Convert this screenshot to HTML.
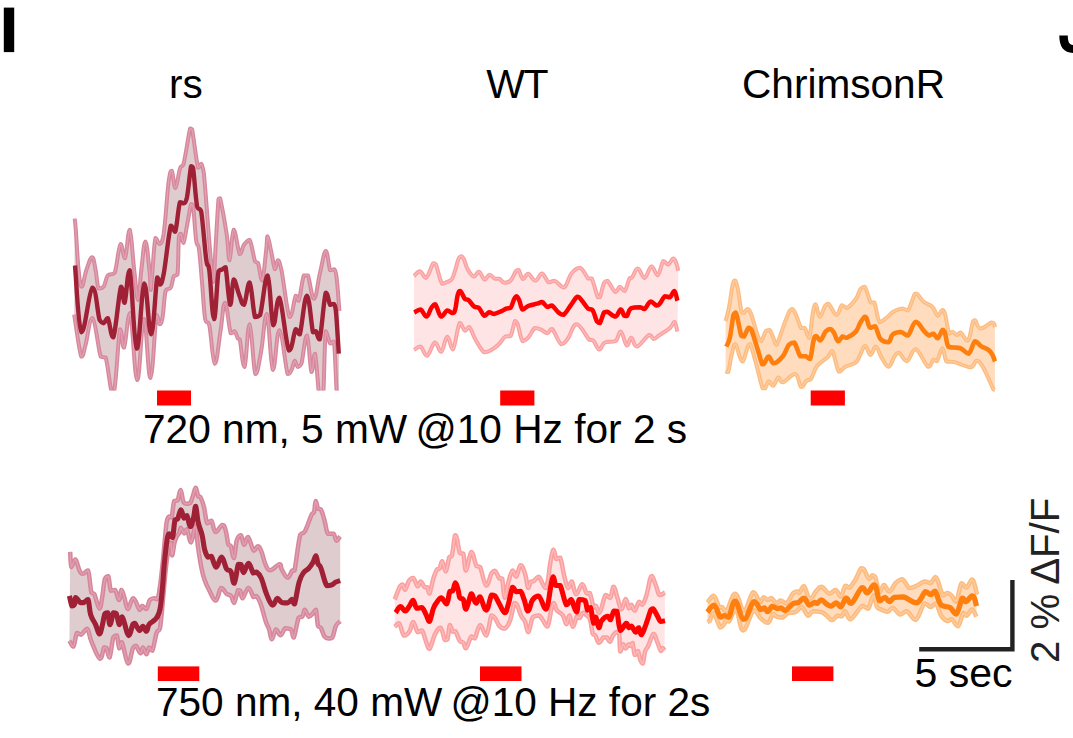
<!DOCTYPE html>
<html><head><meta charset="utf-8"><title>figure</title>
<style>
html,body{margin:0;padding:0;background:#fff;}
body{width:1073px;height:738px;position:relative;overflow:hidden;font-family:"Liberation Sans",sans-serif;color:#000;}
svg{position:absolute;left:0;top:0;}
.t{position:absolute;white-space:nowrap;font-size:41px;line-height:41px;letter-spacing:0;}
</style></head><body>
<svg width="1073" height="738" viewBox="0 0 1073 738">
<defs><clipPath id="c_t1"><rect x="60" y="100" width="300" height="290.5"/></clipPath></defs>
<g clip-path="url(#c_t1)">
<path d="M74.7,218.6 C74.9,220.9 75.0,219.7 75.8,230.0 C76.6,240.3 77.4,258.7 78.6,270.0 C79.8,281.3 80.1,286.6 81.7,286.6 C83.3,286.6 84.3,275.9 86.4,270.0 C88.5,264.1 90.3,257.2 92.1,257.2 C93.9,257.2 94.3,263.7 95.6,270.0 C96.9,276.3 97.0,285.3 98.6,288.6 C100.2,288.6 101.9,288.6 103.7,286.6 C105.5,284.0 105.8,278.0 107.8,275.4 C109.8,273.4 112.3,274.9 113.9,273.4 C115.5,271.9 114.6,273.4 115.9,268.0 C117.2,262.1 118.8,246.0 120.6,244.0 C122.4,244.0 123.2,258.2 125.0,258.2 C126.8,255.4 127.9,229.8 129.7,229.8 C131.5,232.2 132.5,256.0 134.2,270.0 C135.9,284.0 136.6,300.0 138.0,300.0 C139.4,300.0 139.8,281.7 141.3,270.0 C142.8,258.3 143.8,241.5 145.4,241.5 C147.0,241.5 148.3,260.3 149.4,270.0 C150.5,279.7 150.2,290.0 150.8,290.0 C151.4,290.0 151.6,280.4 152.5,270.0 C153.4,259.6 154.1,243.1 155.5,237.9 C156.9,237.9 158.0,244.0 159.6,244.0 C161.2,243.2 161.9,244.0 163.7,233.8 C165.5,221.2 167.1,193.6 168.7,181.0 C170.3,170.8 170.5,170.8 171.8,170.8 C173.1,172.2 173.8,188.1 175.4,188.1 C177.0,187.7 178.3,173.7 179.9,168.8 C181.5,163.9 181.6,168.8 183.6,163.7 C185.6,155.7 188.4,135.5 190.1,128.6 C191.8,128.6 190.5,128.6 192.1,129.4 C193.7,137.2 196.3,160.9 198.1,167.8 C199.9,167.8 200.1,163.7 201.2,163.7 C202.3,164.7 202.0,163.7 203.8,172.8 C205.6,190.1 208.1,228.2 210.0,250.0 C211.9,271.8 212.3,282.0 213.4,282.0 C214.5,282.0 214.4,266.5 215.4,250.0 C216.4,233.5 217.6,209.7 218.5,199.3 C219.4,198.2 218.5,198.2 220.1,198.2 C221.7,205.1 224.7,221.4 226.6,233.8 C228.5,246.2 228.2,260.2 229.6,260.2 C231.0,259.4 231.7,231.0 233.7,229.8 C235.7,229.8 237.8,251.1 239.8,254.1 C241.8,254.1 241.9,247.8 243.9,245.0 C245.9,242.2 247.4,239.9 249.6,239.9 C251.8,243.1 253.3,256.5 255.0,261.2 C256.7,263.2 256.7,261.2 258.1,263.2 C259.5,267.1 260.6,280.5 262.2,280.5 C263.8,277.9 265.1,258.8 266.2,250.0 C267.3,241.2 266.6,236.3 267.6,236.3 C268.6,236.7 269.8,245.4 271.3,252.0 C272.8,258.6 273.7,267.7 275.0,269.3 C276.3,269.3 276.5,260.2 277.8,260.2 C279.1,260.4 279.1,260.2 281.5,270.3 C283.9,281.7 286.8,312.0 289.6,317.1 C292.4,317.1 293.9,299.0 295.7,295.7 C297.5,295.7 297.1,300.8 298.7,300.8 C300.3,296.7 302.0,280.5 303.8,275.4 C305.6,275.4 305.9,275.4 307.9,275.4 C309.9,280.1 311.6,298.8 314.0,298.8 C316.4,298.2 317.7,282.0 320.1,272.4 C322.5,262.8 323.8,251.4 325.8,251.0 C327.8,251.0 328.5,266.6 330.2,270.3 C331.9,270.3 333.0,269.3 334.3,269.3 C335.6,270.9 335.7,270.2 336.7,278.5 C337.7,286.8 338.9,304.5 339.4,311.0 L338.8,405.0 C338.4,402.4 337.7,404.7 336.7,392.0 C335.7,379.3 335.2,351.2 333.9,341.5 C332.6,341.5 331.8,343.5 330.2,343.5 C328.6,341.5 327.2,331.3 325.8,331.3 C324.4,342.2 324.3,384.7 323.0,398.0 C321.7,398.0 321.1,398.0 319.5,398.0 C317.9,389.1 316.6,358.9 315.0,353.7 C313.4,353.7 313.1,372.0 311.5,372.0 C309.9,368.3 308.9,337.0 306.9,335.4 C304.9,335.4 303.2,357.5 301.4,363.8 C299.6,366.9 299.0,366.9 297.7,366.9 C296.4,366.3 295.9,360.8 294.7,360.8 C293.5,361.4 293.0,367.3 291.6,369.9 C290.2,372.5 290.0,374.0 287.6,374.0 C285.2,366.1 282.3,331.1 279.4,330.3 C276.5,330.3 275.4,369.9 272.9,369.9 C270.4,366.6 269.2,317.7 266.8,314.0 C264.4,314.0 263.4,339.6 261.1,351.6 C258.8,363.6 257.7,374.0 255.4,374.0 C253.1,368.5 251.8,325.6 249.6,324.2 C247.4,324.2 246.5,363.9 244.5,366.9 C242.5,366.9 241.1,345.1 239.8,339.4 C238.5,338.4 238.8,339.4 237.8,338.4 C236.8,336.8 236.1,332.3 234.7,331.3 C233.3,331.3 232.6,333.3 230.7,333.3 C228.8,327.6 227.0,303.2 225.0,302.8 C223.0,302.8 222.5,319.1 220.5,331.3 C218.5,343.5 217.0,363.8 214.8,363.8 C212.6,362.6 211.2,334.1 209.3,325.2 C207.4,319.1 206.6,325.2 205.2,319.1 C203.8,311.0 203.4,298.4 202.2,284.6 C201.0,270.8 200.3,258.9 199.1,250.0 C197.9,241.1 197.3,248.8 196.1,239.9 C194.9,231.0 194.1,212.5 193.1,205.4 C192.1,204.3 192.3,204.3 191.1,204.3 C189.9,208.4 188.5,218.0 187.0,225.7 C185.5,233.4 184.6,241.4 183.4,243.0 C182.2,243.0 181.8,235.0 180.9,233.8 C180.0,233.8 179.6,233.8 178.9,236.9 C178.2,245.0 178.5,266.5 177.5,274.4 C176.5,276.4 175.1,274.4 173.8,276.4 C172.5,279.0 172.4,284.7 170.8,287.6 C169.2,290.5 167.3,287.6 165.7,290.7 C164.1,296.6 163.8,310.4 162.6,317.1 C161.4,323.8 160.8,324.2 159.6,324.2 C158.4,323.8 158.3,315.0 156.5,315.0 C154.7,325.8 152.9,377.2 150.4,378.0 C147.9,378.0 146.5,319.1 143.9,319.1 C141.3,319.5 140.0,380.1 137.2,380.1 C134.4,378.9 132.7,319.5 130.1,313.0 C127.5,313.0 126.0,344.3 124.0,347.6 C122.0,347.6 122.1,329.3 120.0,329.3 C117.9,338.8 116.2,389.3 113.3,395.0 C110.4,395.0 108.2,365.4 105.7,357.7 C103.2,356.7 103.3,357.7 100.7,356.7 C98.1,348.8 95.6,320.3 92.5,318.1 C89.4,318.1 87.6,337.8 85.4,345.5 C83.2,353.2 83.5,356.7 81.3,356.7 C79.1,350.5 75.6,323.0 74.2,314.6 Z" fill="#dfcccf" stroke="none"/>
<path d="M74.7,218.6 C74.9,220.9 75.0,219.7 75.8,230.0 C76.6,240.3 77.4,258.7 78.6,270.0 C79.8,281.3 80.1,286.6 81.7,286.6 C83.3,286.6 84.3,275.9 86.4,270.0 C88.5,264.1 90.3,257.2 92.1,257.2 C93.9,257.2 94.3,263.7 95.6,270.0 C96.9,276.3 97.0,285.3 98.6,288.6 C100.2,288.6 101.9,288.6 103.7,286.6 C105.5,284.0 105.8,278.0 107.8,275.4 C109.8,273.4 112.3,274.9 113.9,273.4 C115.5,271.9 114.6,273.4 115.9,268.0 C117.2,262.1 118.8,246.0 120.6,244.0 C122.4,244.0 123.2,258.2 125.0,258.2 C126.8,255.4 127.9,229.8 129.7,229.8 C131.5,232.2 132.5,256.0 134.2,270.0 C135.9,284.0 136.6,300.0 138.0,300.0 C139.4,300.0 139.8,281.7 141.3,270.0 C142.8,258.3 143.8,241.5 145.4,241.5 C147.0,241.5 148.3,260.3 149.4,270.0 C150.5,279.7 150.2,290.0 150.8,290.0 C151.4,290.0 151.6,280.4 152.5,270.0 C153.4,259.6 154.1,243.1 155.5,237.9 C156.9,237.9 158.0,244.0 159.6,244.0 C161.2,243.2 161.9,244.0 163.7,233.8 C165.5,221.2 167.1,193.6 168.7,181.0 C170.3,170.8 170.5,170.8 171.8,170.8 C173.1,172.2 173.8,188.1 175.4,188.1 C177.0,187.7 178.3,173.7 179.9,168.8 C181.5,163.9 181.6,168.8 183.6,163.7 C185.6,155.7 188.4,135.5 190.1,128.6 C191.8,128.6 190.5,128.6 192.1,129.4 C193.7,137.2 196.3,160.9 198.1,167.8 C199.9,167.8 200.1,163.7 201.2,163.7 C202.3,164.7 202.0,163.7 203.8,172.8 C205.6,190.1 208.1,228.2 210.0,250.0 C211.9,271.8 212.3,282.0 213.4,282.0 C214.5,282.0 214.4,266.5 215.4,250.0 C216.4,233.5 217.6,209.7 218.5,199.3 C219.4,198.2 218.5,198.2 220.1,198.2 C221.7,205.1 224.7,221.4 226.6,233.8 C228.5,246.2 228.2,260.2 229.6,260.2 C231.0,259.4 231.7,231.0 233.7,229.8 C235.7,229.8 237.8,251.1 239.8,254.1 C241.8,254.1 241.9,247.8 243.9,245.0 C245.9,242.2 247.4,239.9 249.6,239.9 C251.8,243.1 253.3,256.5 255.0,261.2 C256.7,263.2 256.7,261.2 258.1,263.2 C259.5,267.1 260.6,280.5 262.2,280.5 C263.8,277.9 265.1,258.8 266.2,250.0 C267.3,241.2 266.6,236.3 267.6,236.3 C268.6,236.7 269.8,245.4 271.3,252.0 C272.8,258.6 273.7,267.7 275.0,269.3 C276.3,269.3 276.5,260.2 277.8,260.2 C279.1,260.4 279.1,260.2 281.5,270.3 C283.9,281.7 286.8,312.0 289.6,317.1 C292.4,317.1 293.9,299.0 295.7,295.7 C297.5,295.7 297.1,300.8 298.7,300.8 C300.3,296.7 302.0,280.5 303.8,275.4 C305.6,275.4 305.9,275.4 307.9,275.4 C309.9,280.1 311.6,298.8 314.0,298.8 C316.4,298.2 317.7,282.0 320.1,272.4 C322.5,262.8 323.8,251.4 325.8,251.0 C327.8,251.0 328.5,266.6 330.2,270.3 C331.9,270.3 333.0,269.3 334.3,269.3 C335.6,270.9 335.7,270.2 336.7,278.5 C337.7,286.8 338.9,304.5 339.4,311.0" fill="none" stroke="#d6879b" stroke-width="4" stroke-linejoin="round" stroke-linecap="butt"/>
<path d="M74.2,314.6 C75.6,323.0 79.1,350.5 81.3,356.7 C83.5,356.7 83.2,353.2 85.4,345.5 C87.6,337.8 89.4,318.1 92.5,318.1 C95.6,320.3 98.1,348.8 100.7,356.7 C103.3,357.7 103.2,356.7 105.7,357.7 C108.2,365.4 110.4,395.0 113.3,395.0 C116.2,389.3 117.9,338.8 120.0,329.3 C122.1,329.3 122.0,347.6 124.0,347.6 C126.0,344.3 127.5,313.0 130.1,313.0 C132.7,319.5 134.4,378.9 137.2,380.1 C140.0,380.1 141.3,319.5 143.9,319.1 C146.5,319.1 147.9,378.0 150.4,378.0 C152.9,377.2 154.7,325.8 156.5,315.0 C158.3,315.0 158.4,323.8 159.6,324.2 C160.8,324.2 161.4,323.8 162.6,317.1 C163.8,310.4 164.1,296.6 165.7,290.7 C167.3,287.6 169.2,290.5 170.8,287.6 C172.4,284.7 172.5,279.0 173.8,276.4 C175.1,274.4 176.5,276.4 177.5,274.4 C178.5,266.5 178.2,245.0 178.9,236.9 C179.6,233.8 180.0,233.8 180.9,233.8 C181.8,235.0 182.2,243.0 183.4,243.0 C184.6,241.4 185.5,233.4 187.0,225.7 C188.5,218.0 189.9,208.4 191.1,204.3 C192.3,204.3 192.1,204.3 193.1,205.4 C194.1,212.5 194.9,231.0 196.1,239.9 C197.3,248.8 197.9,241.1 199.1,250.0 C200.3,258.9 201.0,270.8 202.2,284.6 C203.4,298.4 203.8,311.0 205.2,319.1 C206.6,325.2 207.4,319.1 209.3,325.2 C211.2,334.1 212.6,362.6 214.8,363.8 C217.0,363.8 218.5,343.5 220.5,331.3 C222.5,319.1 223.0,302.8 225.0,302.8 C227.0,303.2 228.8,327.6 230.7,333.3 C232.6,333.3 233.3,331.3 234.7,331.3 C236.1,332.3 236.8,336.8 237.8,338.4 C238.8,339.4 238.5,338.4 239.8,339.4 C241.1,345.1 242.5,366.9 244.5,366.9 C246.5,363.9 247.4,324.2 249.6,324.2 C251.8,325.6 253.1,368.5 255.4,374.0 C257.7,374.0 258.8,363.6 261.1,351.6 C263.4,339.6 264.4,314.0 266.8,314.0 C269.2,317.7 270.4,366.6 272.9,369.9 C275.4,369.9 276.5,330.3 279.4,330.3 C282.3,331.1 285.2,366.1 287.6,374.0 C290.0,374.0 290.2,372.5 291.6,369.9 C293.0,367.3 293.5,361.4 294.7,360.8 C295.9,360.8 296.4,366.3 297.7,366.9 C299.0,366.9 299.6,366.9 301.4,363.8 C303.2,357.5 304.9,335.4 306.9,335.4 C308.9,337.0 309.9,368.3 311.5,372.0 C313.1,372.0 313.4,353.7 315.0,353.7 C316.6,358.9 317.9,389.1 319.5,398.0 C321.1,398.0 321.7,398.0 323.0,398.0 C324.3,384.7 324.4,342.2 325.8,331.3 C327.2,331.3 328.6,341.5 330.2,343.5 C331.8,343.5 332.6,341.5 333.9,341.5 C335.2,351.2 335.7,379.3 336.7,392.0 C337.7,404.7 338.4,402.4 338.8,405.0" fill="none" stroke="#d6879b" stroke-width="4" stroke-linejoin="round" stroke-linecap="butt"/>
<path d="M74.7,218.6 C74.9,220.9 75.0,219.7 75.8,230.0 C76.6,240.3 77.4,258.7 78.6,270.0 C79.8,281.3 80.1,286.6 81.7,286.6 C83.3,286.6 84.3,275.9 86.4,270.0 C88.5,264.1 90.3,257.2 92.1,257.2 C93.9,257.2 94.3,263.7 95.6,270.0 C96.9,276.3 97.0,285.3 98.6,288.6 C100.2,288.6 101.9,288.6 103.7,286.6 C105.5,284.0 105.8,278.0 107.8,275.4 C109.8,273.4 112.3,274.9 113.9,273.4 C115.5,271.9 114.6,273.4 115.9,268.0 C117.2,262.1 118.8,246.0 120.6,244.0 C122.4,244.0 123.2,258.2 125.0,258.2 C126.8,255.4 127.9,229.8 129.7,229.8 C131.5,232.2 132.5,256.0 134.2,270.0 C135.9,284.0 136.6,300.0 138.0,300.0 C139.4,300.0 139.8,281.7 141.3,270.0 C142.8,258.3 143.8,241.5 145.4,241.5 C147.0,241.5 148.3,260.3 149.4,270.0 C150.5,279.7 150.2,290.0 150.8,290.0 C151.4,290.0 151.6,280.4 152.5,270.0 C153.4,259.6 154.1,243.1 155.5,237.9 C156.9,237.9 158.0,244.0 159.6,244.0 C161.2,243.2 161.9,244.0 163.7,233.8 C165.5,221.2 167.1,193.6 168.7,181.0 C170.3,170.8 170.5,170.8 171.8,170.8 C173.1,172.2 173.8,188.1 175.4,188.1 C177.0,187.7 178.3,173.7 179.9,168.8 C181.5,163.9 181.6,168.8 183.6,163.7 C185.6,155.7 188.4,135.5 190.1,128.6 C191.8,128.6 190.5,128.6 192.1,129.4 C193.7,137.2 196.3,160.9 198.1,167.8 C199.9,167.8 200.1,163.7 201.2,163.7 C202.3,164.7 202.0,163.7 203.8,172.8 C205.6,190.1 208.1,228.2 210.0,250.0 C211.9,271.8 212.3,282.0 213.4,282.0 C214.5,282.0 214.4,266.5 215.4,250.0 C216.4,233.5 217.6,209.7 218.5,199.3 C219.4,198.2 218.5,198.2 220.1,198.2 C221.7,205.1 224.7,221.4 226.6,233.8 C228.5,246.2 228.2,260.2 229.6,260.2 C231.0,259.4 231.7,231.0 233.7,229.8 C235.7,229.8 237.8,251.1 239.8,254.1 C241.8,254.1 241.9,247.8 243.9,245.0 C245.9,242.2 247.4,239.9 249.6,239.9 C251.8,243.1 253.3,256.5 255.0,261.2 C256.7,263.2 256.7,261.2 258.1,263.2 C259.5,267.1 260.6,280.5 262.2,280.5 C263.8,277.9 265.1,258.8 266.2,250.0 C267.3,241.2 266.6,236.3 267.6,236.3 C268.6,236.7 269.8,245.4 271.3,252.0 C272.8,258.6 273.7,267.7 275.0,269.3 C276.3,269.3 276.5,260.2 277.8,260.2 C279.1,260.4 279.1,260.2 281.5,270.3 C283.9,281.7 286.8,312.0 289.6,317.1 C292.4,317.1 293.9,299.0 295.7,295.7 C297.5,295.7 297.1,300.8 298.7,300.8 C300.3,296.7 302.0,280.5 303.8,275.4 C305.6,275.4 305.9,275.4 307.9,275.4 C309.9,280.1 311.6,298.8 314.0,298.8 C316.4,298.2 317.7,282.0 320.1,272.4 C322.5,262.8 323.8,251.4 325.8,251.0 C327.8,251.0 328.5,266.6 330.2,270.3 C331.9,270.3 333.0,269.3 334.3,269.3 C335.6,270.9 335.7,270.2 336.7,278.5 C337.7,286.8 338.9,304.5 339.4,311.0" fill="none" stroke="#e1a1b2" stroke-width="1.3" stroke-linejoin="round" stroke-linecap="butt"/>
<path d="M74.2,314.6 C75.6,323.0 79.1,350.5 81.3,356.7 C83.5,356.7 83.2,353.2 85.4,345.5 C87.6,337.8 89.4,318.1 92.5,318.1 C95.6,320.3 98.1,348.8 100.7,356.7 C103.3,357.7 103.2,356.7 105.7,357.7 C108.2,365.4 110.4,395.0 113.3,395.0 C116.2,389.3 117.9,338.8 120.0,329.3 C122.1,329.3 122.0,347.6 124.0,347.6 C126.0,344.3 127.5,313.0 130.1,313.0 C132.7,319.5 134.4,378.9 137.2,380.1 C140.0,380.1 141.3,319.5 143.9,319.1 C146.5,319.1 147.9,378.0 150.4,378.0 C152.9,377.2 154.7,325.8 156.5,315.0 C158.3,315.0 158.4,323.8 159.6,324.2 C160.8,324.2 161.4,323.8 162.6,317.1 C163.8,310.4 164.1,296.6 165.7,290.7 C167.3,287.6 169.2,290.5 170.8,287.6 C172.4,284.7 172.5,279.0 173.8,276.4 C175.1,274.4 176.5,276.4 177.5,274.4 C178.5,266.5 178.2,245.0 178.9,236.9 C179.6,233.8 180.0,233.8 180.9,233.8 C181.8,235.0 182.2,243.0 183.4,243.0 C184.6,241.4 185.5,233.4 187.0,225.7 C188.5,218.0 189.9,208.4 191.1,204.3 C192.3,204.3 192.1,204.3 193.1,205.4 C194.1,212.5 194.9,231.0 196.1,239.9 C197.3,248.8 197.9,241.1 199.1,250.0 C200.3,258.9 201.0,270.8 202.2,284.6 C203.4,298.4 203.8,311.0 205.2,319.1 C206.6,325.2 207.4,319.1 209.3,325.2 C211.2,334.1 212.6,362.6 214.8,363.8 C217.0,363.8 218.5,343.5 220.5,331.3 C222.5,319.1 223.0,302.8 225.0,302.8 C227.0,303.2 228.8,327.6 230.7,333.3 C232.6,333.3 233.3,331.3 234.7,331.3 C236.1,332.3 236.8,336.8 237.8,338.4 C238.8,339.4 238.5,338.4 239.8,339.4 C241.1,345.1 242.5,366.9 244.5,366.9 C246.5,363.9 247.4,324.2 249.6,324.2 C251.8,325.6 253.1,368.5 255.4,374.0 C257.7,374.0 258.8,363.6 261.1,351.6 C263.4,339.6 264.4,314.0 266.8,314.0 C269.2,317.7 270.4,366.6 272.9,369.9 C275.4,369.9 276.5,330.3 279.4,330.3 C282.3,331.1 285.2,366.1 287.6,374.0 C290.0,374.0 290.2,372.5 291.6,369.9 C293.0,367.3 293.5,361.4 294.7,360.8 C295.9,360.8 296.4,366.3 297.7,366.9 C299.0,366.9 299.6,366.9 301.4,363.8 C303.2,357.5 304.9,335.4 306.9,335.4 C308.9,337.0 309.9,368.3 311.5,372.0 C313.1,372.0 313.4,353.7 315.0,353.7 C316.6,358.9 317.9,389.1 319.5,398.0 C321.1,398.0 321.7,398.0 323.0,398.0 C324.3,384.7 324.4,342.2 325.8,331.3 C327.2,331.3 328.6,341.5 330.2,343.5 C331.8,343.5 332.6,341.5 333.9,341.5 C335.2,351.2 335.7,379.3 336.7,392.0 C337.7,404.7 338.4,402.4 338.8,405.0" fill="none" stroke="#e1a1b2" stroke-width="1.3" stroke-linejoin="round" stroke-linecap="butt"/>
<path d="M75.0,265.5 C76.3,278.9 78.1,327.9 81.6,332.3 C85.1,332.3 88.9,290.0 92.5,287.6 C96.1,287.6 97.4,313.0 99.6,320.1 C101.8,323.2 102.1,323.2 103.7,323.2 C105.3,322.8 105.9,318.1 107.8,318.1 C109.7,320.9 110.7,337.4 113.3,337.4 C115.9,331.1 118.7,293.5 121.0,286.6 C123.3,286.6 122.9,302.8 124.6,302.8 C126.3,299.5 127.3,270.3 129.7,270.3 C132.1,279.5 133.9,346.0 136.8,348.6 C139.7,348.6 141.4,286.4 144.3,283.5 C147.2,283.5 148.5,334.3 151.1,334.3 C153.7,333.1 155.4,287.3 157.2,277.4 C159.0,277.4 158.7,284.6 160.0,284.6 C161.3,283.9 161.5,284.6 163.7,274.0 C165.9,262.2 168.5,234.1 170.8,225.7 C173.1,225.7 173.4,231.8 175.2,231.8 C177.0,227.1 178.1,208.0 179.9,202.3 C181.7,202.3 182.6,203.3 184.0,203.3 C185.4,202.3 185.6,203.3 187.0,197.2 C188.4,189.8 189.9,172.1 191.1,166.3 C192.3,166.3 191.9,166.3 193.1,168.0 C194.3,176.0 195.5,197.7 197.1,206.4 C198.7,211.5 199.4,206.4 201.2,211.5 C203.0,222.3 204.7,248.4 206.3,260.2 C207.9,270.3 207.8,260.2 209.3,270.3 C210.8,282.1 212.2,318.9 214.0,319.1 C215.8,319.1 216.8,281.3 218.5,271.3 C220.2,269.3 221.1,270.1 222.5,269.3 C223.9,268.5 224.1,267.3 225.6,267.3 C227.1,274.4 228.6,302.5 230.2,304.9 C231.8,304.9 232.0,281.7 233.7,279.5 C235.4,279.5 236.8,288.6 238.8,293.7 C240.8,298.8 241.7,304.9 243.9,304.9 C246.1,302.7 247.4,282.5 249.6,282.5 C251.8,284.9 252.9,310.6 255.0,317.1 C257.1,317.1 257.6,317.1 260.1,315.0 C262.6,306.7 265.0,275.4 267.6,275.4 C270.2,277.4 270.9,320.7 273.3,325.2 C275.7,325.2 276.3,297.8 279.4,297.8 C282.5,302.9 285.7,344.3 289.0,350.6 C292.3,350.6 293.5,332.6 295.7,329.3 C297.9,329.3 297.6,334.3 299.8,334.3 C302.0,327.6 304.3,296.1 306.9,295.7 C309.5,295.7 311.2,325.2 313.0,332.3 C314.8,332.3 314.7,331.3 316.0,331.3 C317.3,332.7 317.7,339.4 319.7,339.4 C321.7,331.7 323.7,299.6 325.8,292.7 C327.9,292.7 328.6,302.7 330.2,304.9 C331.8,304.9 332.8,303.9 333.9,303.9 C335.0,305.1 334.9,303.9 335.9,311.0 C336.9,321.0 338.2,345.2 338.8,353.7" fill="none" stroke="#a02035" stroke-width="4.4" stroke-linejoin="round" stroke-linecap="butt"/>
</g>
<g>
<path d="M414.0,276.1 C415.2,275.1 417.6,271.3 420.0,271.3 C422.4,271.7 423.5,277.9 426.1,277.9 C428.7,276.3 431.3,265.9 433.2,263.2 C435.1,263.2 434.0,263.2 435.8,264.3 C437.6,268.4 439.7,280.2 442.0,283.7 C444.3,283.7 445.2,283.1 447.3,281.9 C449.4,280.7 450.2,281.9 452.5,277.9 C454.8,273.2 456.9,262.8 458.7,258.5 C460.5,256.2 460.2,256.2 461.3,256.2 C462.4,256.4 462.8,256.8 464.0,259.4 C465.2,262.0 465.6,265.6 467.5,269.0 C469.4,272.4 471.4,276.1 473.7,276.6 C476.0,276.6 476.7,271.7 478.9,271.7 C481.1,272.3 482.5,279.0 484.6,279.6 C486.7,279.6 487.5,274.9 489.5,274.7 C491.5,274.7 492.9,277.9 494.8,278.7 C496.7,278.7 497.3,278.7 499.2,278.7 C501.1,279.5 502.2,282.4 504.5,282.8 C506.8,282.8 508.3,282.8 510.6,280.5 C512.9,278.2 514.3,273.4 515.9,271.3 C517.5,269.9 517.2,269.9 518.6,269.9 C520.0,271.5 521.1,278.3 523.0,279.1 C524.9,279.1 525.7,273.8 528.2,273.8 C530.7,274.1 532.5,280.5 535.3,280.5 C538.1,280.4 539.4,273.5 542.0,273.5 C544.6,273.9 546.0,280.8 548.5,282.3 C551.0,282.3 551.6,280.8 554.7,280.8 C557.8,281.8 560.7,287.5 564.0,287.5 C567.3,286.0 568.2,277.4 571.4,273.5 C574.6,269.6 576.9,267.8 580.2,267.8 C583.5,268.8 585.8,276.3 588.1,278.4 C590.4,278.4 589.8,278.4 591.7,278.4 C593.6,282.2 596.2,293.4 597.8,297.2 C599.4,297.2 598.7,297.2 599.9,297.2 C601.1,294.4 602.5,286.4 604.0,283.1 C605.5,280.8 605.2,280.8 607.5,280.8 C609.8,282.6 612.9,290.7 615.4,291.9 C617.9,291.9 618.0,286.9 619.8,286.7 C621.6,286.7 622.7,291.1 624.6,291.1 C626.5,289.4 628.0,281.2 629.5,278.4 C631.0,277.3 630.4,278.4 632.1,277.3 C633.8,275.3 635.3,268.5 637.8,268.5 C640.3,268.6 641.8,277.9 644.5,277.9 C647.2,277.5 648.9,266.9 651.5,266.4 C654.1,266.4 655.3,275.2 657.7,275.2 C660.1,274.1 661.2,263.2 663.3,261.1 C665.4,261.1 666.2,264.6 668.2,264.6 C670.2,264.1 671.6,258.8 673.2,258.5 C674.8,258.5 675.2,260.4 676.2,262.9 C677.2,265.4 677.9,269.2 678.3,270.8 L677.4,331.5 C676.8,329.6 675.9,322.6 674.4,321.9 C672.9,321.9 673.0,325.4 670.0,328.0 C667.0,330.6 662.6,332.9 659.4,335.1 C656.2,337.3 655.9,338.9 653.8,338.9 C651.7,338.9 652.3,335.1 648.9,335.1 C645.5,336.6 640.4,346.0 636.9,346.5 C633.4,346.5 633.3,337.9 631.3,337.7 C629.3,337.7 629.0,345.6 626.9,345.6 C624.8,344.4 623.0,332.4 620.7,331.5 C618.4,331.5 618.6,339.0 615.4,341.2 C612.2,342.5 608.1,341.2 604.9,342.5 C601.7,344.2 601.5,349.5 599.2,349.5 C596.9,349.1 595.4,342.7 593.4,340.7 C591.4,339.5 592.3,340.7 589.0,339.5 C585.7,336.2 580.9,324.4 576.7,324.2 C572.5,324.2 571.0,334.6 567.9,338.6 C564.8,342.6 564.4,344.2 561.2,344.2 C558.0,342.3 554.8,331.1 552.0,328.9 C549.2,328.9 549.4,333.1 547.3,333.3 C545.2,333.3 543.9,330.9 541.4,329.8 C538.9,328.7 537.5,328.0 534.9,328.0 C532.3,329.6 530.7,335.1 528.2,337.7 C525.7,340.3 524.7,341.2 522.6,341.2 C520.5,338.6 519.2,328.5 517.7,324.5 C516.2,321.0 516.4,321.0 515.0,321.0 C513.6,323.3 512.5,332.9 510.6,336.0 C508.7,336.5 507.9,336.0 505.4,336.5 C502.9,338.3 501.1,342.1 498.3,344.8 C495.5,347.5 494.1,348.5 491.3,350.0 C488.5,351.5 487.4,352.3 484.2,352.3 C481.0,350.2 478.4,344.5 475.4,339.5 C472.4,334.5 471.4,328.9 469.3,327.1 C467.2,327.1 466.8,330.7 464.9,330.7 C463.0,329.9 462.0,323.1 459.6,323.1 C457.2,326.9 455.4,346.8 452.9,349.5 C450.4,349.5 449.7,336.8 447.3,336.8 C444.9,337.3 443.6,350.7 441.1,351.8 C438.6,351.8 437.7,342.5 434.9,342.5 C432.1,343.3 429.9,355.0 427.0,355.8 C424.1,355.8 423.1,347.7 420.5,346.5 C417.9,346.5 415.3,349.3 414.0,350.0 Z" fill="#fee4e4" stroke="none"/>
<path d="M414.0,276.1 C415.2,275.1 417.6,271.3 420.0,271.3 C422.4,271.7 423.5,277.9 426.1,277.9 C428.7,276.3 431.3,265.9 433.2,263.2 C435.1,263.2 434.0,263.2 435.8,264.3 C437.6,268.4 439.7,280.2 442.0,283.7 C444.3,283.7 445.2,283.1 447.3,281.9 C449.4,280.7 450.2,281.9 452.5,277.9 C454.8,273.2 456.9,262.8 458.7,258.5 C460.5,256.2 460.2,256.2 461.3,256.2 C462.4,256.4 462.8,256.8 464.0,259.4 C465.2,262.0 465.6,265.6 467.5,269.0 C469.4,272.4 471.4,276.1 473.7,276.6 C476.0,276.6 476.7,271.7 478.9,271.7 C481.1,272.3 482.5,279.0 484.6,279.6 C486.7,279.6 487.5,274.9 489.5,274.7 C491.5,274.7 492.9,277.9 494.8,278.7 C496.7,278.7 497.3,278.7 499.2,278.7 C501.1,279.5 502.2,282.4 504.5,282.8 C506.8,282.8 508.3,282.8 510.6,280.5 C512.9,278.2 514.3,273.4 515.9,271.3 C517.5,269.9 517.2,269.9 518.6,269.9 C520.0,271.5 521.1,278.3 523.0,279.1 C524.9,279.1 525.7,273.8 528.2,273.8 C530.7,274.1 532.5,280.5 535.3,280.5 C538.1,280.4 539.4,273.5 542.0,273.5 C544.6,273.9 546.0,280.8 548.5,282.3 C551.0,282.3 551.6,280.8 554.7,280.8 C557.8,281.8 560.7,287.5 564.0,287.5 C567.3,286.0 568.2,277.4 571.4,273.5 C574.6,269.6 576.9,267.8 580.2,267.8 C583.5,268.8 585.8,276.3 588.1,278.4 C590.4,278.4 589.8,278.4 591.7,278.4 C593.6,282.2 596.2,293.4 597.8,297.2 C599.4,297.2 598.7,297.2 599.9,297.2 C601.1,294.4 602.5,286.4 604.0,283.1 C605.5,280.8 605.2,280.8 607.5,280.8 C609.8,282.6 612.9,290.7 615.4,291.9 C617.9,291.9 618.0,286.9 619.8,286.7 C621.6,286.7 622.7,291.1 624.6,291.1 C626.5,289.4 628.0,281.2 629.5,278.4 C631.0,277.3 630.4,278.4 632.1,277.3 C633.8,275.3 635.3,268.5 637.8,268.5 C640.3,268.6 641.8,277.9 644.5,277.9 C647.2,277.5 648.9,266.9 651.5,266.4 C654.1,266.4 655.3,275.2 657.7,275.2 C660.1,274.1 661.2,263.2 663.3,261.1 C665.4,261.1 666.2,264.6 668.2,264.6 C670.2,264.1 671.6,258.8 673.2,258.5 C674.8,258.5 675.2,260.4 676.2,262.9 C677.2,265.4 677.9,269.2 678.3,270.8" fill="none" stroke="#fb9f9f" stroke-width="4" stroke-linejoin="round" stroke-linecap="butt"/>
<path d="M414.0,350.0 C415.3,349.3 417.9,346.5 420.5,346.5 C423.1,347.7 424.1,355.8 427.0,355.8 C429.9,355.0 432.1,343.3 434.9,342.5 C437.7,342.5 438.6,351.8 441.1,351.8 C443.6,350.7 444.9,337.3 447.3,336.8 C449.7,336.8 450.4,349.5 452.9,349.5 C455.4,346.8 457.2,326.9 459.6,323.1 C462.0,323.1 463.0,329.9 464.9,330.7 C466.8,330.7 467.2,327.1 469.3,327.1 C471.4,328.9 472.4,334.5 475.4,339.5 C478.4,344.5 481.0,350.2 484.2,352.3 C487.4,352.3 488.5,351.5 491.3,350.0 C494.1,348.5 495.5,347.5 498.3,344.8 C501.1,342.1 502.9,338.3 505.4,336.5 C507.9,336.0 508.7,336.5 510.6,336.0 C512.5,332.9 513.6,323.3 515.0,321.0 C516.4,321.0 516.2,321.0 517.7,324.5 C519.2,328.5 520.5,338.6 522.6,341.2 C524.7,341.2 525.7,340.3 528.2,337.7 C530.7,335.1 532.3,329.6 534.9,328.0 C537.5,328.0 538.9,328.7 541.4,329.8 C543.9,330.9 545.2,333.3 547.3,333.3 C549.4,333.1 549.2,328.9 552.0,328.9 C554.8,331.1 558.0,342.3 561.2,344.2 C564.4,344.2 564.8,342.6 567.9,338.6 C571.0,334.6 572.5,324.2 576.7,324.2 C580.9,324.4 585.7,336.2 589.0,339.5 C592.3,340.7 591.4,339.5 593.4,340.7 C595.4,342.7 596.9,349.1 599.2,349.5 C601.5,349.5 601.7,344.2 604.9,342.5 C608.1,341.2 612.2,342.5 615.4,341.2 C618.6,339.0 618.4,331.5 620.7,331.5 C623.0,332.4 624.8,344.4 626.9,345.6 C629.0,345.6 629.3,337.7 631.3,337.7 C633.3,337.9 633.4,346.5 636.9,346.5 C640.4,346.0 645.5,336.6 648.9,335.1 C652.3,335.1 651.7,338.9 653.8,338.9 C655.9,338.9 656.2,337.3 659.4,335.1 C662.6,332.9 667.0,330.6 670.0,328.0 C673.0,325.4 672.9,321.9 674.4,321.9 C675.9,322.6 676.8,329.6 677.4,331.5" fill="none" stroke="#fb9f9f" stroke-width="4" stroke-linejoin="round" stroke-linecap="butt"/>
<path d="M414.0,276.1 C415.2,275.1 417.6,271.3 420.0,271.3 C422.4,271.7 423.5,277.9 426.1,277.9 C428.7,276.3 431.3,265.9 433.2,263.2 C435.1,263.2 434.0,263.2 435.8,264.3 C437.6,268.4 439.7,280.2 442.0,283.7 C444.3,283.7 445.2,283.1 447.3,281.9 C449.4,280.7 450.2,281.9 452.5,277.9 C454.8,273.2 456.9,262.8 458.7,258.5 C460.5,256.2 460.2,256.2 461.3,256.2 C462.4,256.4 462.8,256.8 464.0,259.4 C465.2,262.0 465.6,265.6 467.5,269.0 C469.4,272.4 471.4,276.1 473.7,276.6 C476.0,276.6 476.7,271.7 478.9,271.7 C481.1,272.3 482.5,279.0 484.6,279.6 C486.7,279.6 487.5,274.9 489.5,274.7 C491.5,274.7 492.9,277.9 494.8,278.7 C496.7,278.7 497.3,278.7 499.2,278.7 C501.1,279.5 502.2,282.4 504.5,282.8 C506.8,282.8 508.3,282.8 510.6,280.5 C512.9,278.2 514.3,273.4 515.9,271.3 C517.5,269.9 517.2,269.9 518.6,269.9 C520.0,271.5 521.1,278.3 523.0,279.1 C524.9,279.1 525.7,273.8 528.2,273.8 C530.7,274.1 532.5,280.5 535.3,280.5 C538.1,280.4 539.4,273.5 542.0,273.5 C544.6,273.9 546.0,280.8 548.5,282.3 C551.0,282.3 551.6,280.8 554.7,280.8 C557.8,281.8 560.7,287.5 564.0,287.5 C567.3,286.0 568.2,277.4 571.4,273.5 C574.6,269.6 576.9,267.8 580.2,267.8 C583.5,268.8 585.8,276.3 588.1,278.4 C590.4,278.4 589.8,278.4 591.7,278.4 C593.6,282.2 596.2,293.4 597.8,297.2 C599.4,297.2 598.7,297.2 599.9,297.2 C601.1,294.4 602.5,286.4 604.0,283.1 C605.5,280.8 605.2,280.8 607.5,280.8 C609.8,282.6 612.9,290.7 615.4,291.9 C617.9,291.9 618.0,286.9 619.8,286.7 C621.6,286.7 622.7,291.1 624.6,291.1 C626.5,289.4 628.0,281.2 629.5,278.4 C631.0,277.3 630.4,278.4 632.1,277.3 C633.8,275.3 635.3,268.5 637.8,268.5 C640.3,268.6 641.8,277.9 644.5,277.9 C647.2,277.5 648.9,266.9 651.5,266.4 C654.1,266.4 655.3,275.2 657.7,275.2 C660.1,274.1 661.2,263.2 663.3,261.1 C665.4,261.1 666.2,264.6 668.2,264.6 C670.2,264.1 671.6,258.8 673.2,258.5 C674.8,258.5 675.2,260.4 676.2,262.9 C677.2,265.4 677.9,269.2 678.3,270.8" fill="none" stroke="#fcbcbc" stroke-width="1.3" stroke-linejoin="round" stroke-linecap="butt"/>
<path d="M414.0,350.0 C415.3,349.3 417.9,346.5 420.5,346.5 C423.1,347.7 424.1,355.8 427.0,355.8 C429.9,355.0 432.1,343.3 434.9,342.5 C437.7,342.5 438.6,351.8 441.1,351.8 C443.6,350.7 444.9,337.3 447.3,336.8 C449.7,336.8 450.4,349.5 452.9,349.5 C455.4,346.8 457.2,326.9 459.6,323.1 C462.0,323.1 463.0,329.9 464.9,330.7 C466.8,330.7 467.2,327.1 469.3,327.1 C471.4,328.9 472.4,334.5 475.4,339.5 C478.4,344.5 481.0,350.2 484.2,352.3 C487.4,352.3 488.5,351.5 491.3,350.0 C494.1,348.5 495.5,347.5 498.3,344.8 C501.1,342.1 502.9,338.3 505.4,336.5 C507.9,336.0 508.7,336.5 510.6,336.0 C512.5,332.9 513.6,323.3 515.0,321.0 C516.4,321.0 516.2,321.0 517.7,324.5 C519.2,328.5 520.5,338.6 522.6,341.2 C524.7,341.2 525.7,340.3 528.2,337.7 C530.7,335.1 532.3,329.6 534.9,328.0 C537.5,328.0 538.9,328.7 541.4,329.8 C543.9,330.9 545.2,333.3 547.3,333.3 C549.4,333.1 549.2,328.9 552.0,328.9 C554.8,331.1 558.0,342.3 561.2,344.2 C564.4,344.2 564.8,342.6 567.9,338.6 C571.0,334.6 572.5,324.2 576.7,324.2 C580.9,324.4 585.7,336.2 589.0,339.5 C592.3,340.7 591.4,339.5 593.4,340.7 C595.4,342.7 596.9,349.1 599.2,349.5 C601.5,349.5 601.7,344.2 604.9,342.5 C608.1,341.2 612.2,342.5 615.4,341.2 C618.6,339.0 618.4,331.5 620.7,331.5 C623.0,332.4 624.8,344.4 626.9,345.6 C629.0,345.6 629.3,337.7 631.3,337.7 C633.3,337.9 633.4,346.5 636.9,346.5 C640.4,346.0 645.5,336.6 648.9,335.1 C652.3,335.1 651.7,338.9 653.8,338.9 C655.9,338.9 656.2,337.3 659.4,335.1 C662.6,332.9 667.0,330.6 670.0,328.0 C673.0,325.4 672.9,321.9 674.4,321.9 C675.9,322.6 676.8,329.6 677.4,331.5" fill="none" stroke="#fcbcbc" stroke-width="1.3" stroke-linejoin="round" stroke-linecap="butt"/>
<path d="M414.2,312.5 C415.5,311.9 418.0,309.5 420.5,309.5 C423.0,310.3 424.3,316.6 426.5,316.6 C428.7,316.3 429.6,310.3 431.4,307.8 C433.2,305.3 433.4,304.3 435.3,304.3 C437.2,306.1 438.7,315.4 441.1,316.6 C443.5,316.6 445.0,311.1 447.3,310.4 C449.6,310.4 450.9,313.1 452.5,313.1 C454.1,312.9 454.1,313.1 455.2,309.5 C456.3,305.8 456.7,298.3 457.8,294.6 C458.9,291.1 459.1,291.1 460.5,291.1 C461.9,292.0 463.3,297.2 464.9,299.0 C466.5,300.2 466.9,299.0 468.7,300.2 C470.5,301.7 472.0,305.0 474.0,306.5 C476.0,307.8 476.9,306.5 478.9,307.8 C480.9,309.6 482.1,314.8 484.2,315.7 C486.3,315.7 487.3,312.6 489.2,312.2 C491.1,312.2 491.5,313.9 493.9,313.9 C496.3,313.7 498.5,312.3 501.0,311.3 C503.5,310.3 504.3,309.4 506.2,308.7 C508.1,308.0 509.0,308.7 510.6,307.8 C512.2,305.9 513.0,301.3 514.2,299.0 C515.4,296.7 515.8,296.3 516.8,296.3 C517.8,296.6 518.2,298.1 519.4,300.7 C520.6,303.3 520.8,308.4 522.6,309.5 C524.4,309.5 525.3,307.2 528.2,306.0 C531.1,304.8 534.2,304.5 537.0,303.7 C539.8,302.9 539.9,302.0 542.0,302.0 C544.1,302.6 545.3,306.2 547.3,306.9 C549.3,306.9 549.8,305.5 552.0,305.5 C554.2,306.6 555.9,310.3 558.2,312.2 C560.5,314.1 560.9,314.8 563.5,314.8 C566.1,313.2 568.6,307.9 571.4,304.3 C574.2,300.7 575.5,297.4 577.6,296.7 C579.7,296.7 579.9,298.3 582.0,300.7 C584.1,303.1 586.0,306.8 588.1,308.7 C590.2,310.0 590.7,308.7 592.5,310.0 C594.3,312.5 595.4,318.7 596.9,321.3 C598.4,323.1 598.5,323.1 599.9,323.1 C601.3,321.3 602.5,314.8 604.0,312.5 C605.5,311.8 605.2,311.8 607.5,311.8 C609.8,312.6 612.8,316.6 615.4,316.6 C618.0,316.1 618.9,309.7 620.7,309.5 C622.5,309.5 623.0,314.4 624.2,315.7 C625.4,316.1 625.6,316.1 626.9,316.1 C628.2,314.6 628.3,310.1 630.9,308.3 C633.5,307.3 637.4,307.3 640.1,307.3 C642.8,307.4 642.4,309.0 644.5,309.0 C646.6,307.9 648.1,302.3 650.6,301.6 C653.1,301.6 654.9,305.2 656.8,305.5 C658.7,305.5 658.7,304.8 660.3,303.0 C661.9,301.2 662.8,297.5 664.7,296.3 C666.6,296.3 668.1,297.2 670.0,297.2 C671.9,296.2 672.9,291.1 674.4,291.1 C675.9,291.8 676.8,298.8 677.4,300.7" fill="none" stroke="#ff0000" stroke-width="4.5" stroke-linejoin="round" stroke-linecap="butt"/>
</g>
<g>
<path d="M725.6,321.1 C726.3,318.3 727.7,314.2 729.1,307.0 C730.5,299.8 731.4,290.3 732.6,285.0 C733.8,280.6 734.1,280.6 735.2,280.6 C736.3,281.5 736.7,283.2 737.9,289.4 C739.1,295.6 740.3,306.7 741.4,311.4 C742.5,313.1 742.3,313.1 743.5,313.1 C744.7,312.6 746.1,309.1 747.6,309.1 C749.1,309.3 749.0,309.1 751.1,314.0 C753.2,319.6 756.1,331.4 758.1,336.9 C760.1,341.3 759.5,341.3 761.1,341.3 C762.7,340.1 764.4,333.0 766.1,330.7 C767.8,329.9 768.0,329.9 769.6,329.9 C771.2,331.7 772.6,336.5 774.0,339.5 C775.4,342.5 774.8,344.8 776.6,344.8 C778.4,342.5 780.3,334.6 782.8,328.1 C785.3,321.6 787.0,316.1 788.9,312.3 C790.8,309.1 791.1,309.1 792.5,309.1 C793.9,309.6 794.2,311.1 796.0,314.9 C797.8,318.7 799.5,325.5 801.3,328.1 C803.1,328.1 803.2,328.1 804.8,328.1 C806.4,330.0 807.6,337.8 809.2,337.8 C810.8,335.0 811.4,320.7 812.7,314.0 C814.0,307.3 814.3,304.3 815.7,304.3 C817.1,304.8 817.9,316.3 819.8,316.7 C821.7,316.7 823.2,308.7 825.0,306.1 C826.8,303.8 826.3,303.8 828.6,303.8 C830.9,305.6 833.9,314.6 836.5,314.9 C839.1,314.9 839.7,306.6 841.8,305.2 C843.9,305.2 844.2,307.9 847.0,307.9 C849.8,306.7 853.1,302.7 855.8,299.0 C858.5,295.3 858.5,291.9 860.3,289.4 C862.1,286.9 862.6,286.7 864.7,286.7 C866.8,289.3 868.9,299.4 870.8,302.6 C872.7,302.6 872.6,302.6 874.4,302.6 C876.2,306.5 877.1,318.9 879.6,321.9 C882.1,321.9 883.9,319.6 886.7,317.5 C889.5,315.4 890.5,313.2 893.7,311.4 C896.9,309.6 899.7,308.6 902.5,308.4 C905.3,308.4 905.3,310.5 907.8,310.5 C910.3,307.6 913.0,297.0 914.9,293.8 C916.8,293.8 915.7,293.8 917.5,294.3 C919.3,295.9 920.7,299.2 923.7,301.7 C926.7,304.2 929.7,304.2 932.5,307.0 C935.3,309.8 935.8,315.2 937.7,315.8 C939.6,315.8 940.7,310.6 942.1,310.1 C943.5,310.1 943.4,310.1 944.8,313.1 C946.2,317.8 947.6,329.6 949.2,333.4 C950.8,333.4 951.1,332.0 952.7,332.0 C954.3,332.3 955.5,335.0 957.1,335.1 C958.7,335.1 958.5,332.5 960.6,332.5 C962.7,333.6 965.2,340.8 967.7,340.8 C970.2,338.6 971.5,325.5 973.0,321.4 C974.5,320.2 973.6,320.2 975.1,320.2 C976.6,321.6 977.1,328.0 980.4,328.5 C983.7,328.5 988.7,323.5 991.4,322.5 C994.1,322.5 993.4,322.8 994.1,323.7 C994.8,324.6 994.7,326.5 994.9,327.2 L994.9,390.0 C994.6,389.9 994.6,390.0 993.4,389.4 C992.2,387.2 991.1,384.1 988.8,379.2 C986.5,374.3 984.3,368.8 981.8,365.1 C979.3,361.4 978.8,360.7 976.5,360.7 C974.2,361.1 974.9,367.0 970.3,367.2 C965.7,367.2 958.4,363.0 953.6,361.9 C948.8,361.5 948.7,361.9 946.5,361.5 C944.3,358.8 944.4,348.4 942.5,348.3 C940.6,348.3 938.7,358.9 936.9,361.2 C935.1,361.2 935.1,359.8 933.3,359.8 C931.5,360.9 931.6,366.8 928.1,366.8 C924.6,364.7 919.9,350.3 915.7,349.2 C911.5,349.2 910.2,360.5 906.9,361.2 C903.6,361.2 901.5,353.7 899.0,352.7 C896.5,352.7 896.7,353.5 894.6,356.3 C892.5,359.1 891.1,366.6 888.5,366.8 C885.9,366.8 883.9,361.1 881.4,357.1 C878.9,353.1 878.0,347.0 875.8,346.6 C873.6,346.6 872.6,354.9 870.5,354.9 C868.4,354.7 867.2,345.8 865.2,345.7 C863.2,345.7 862.2,351.2 860.3,354.5 C858.4,357.8 858.8,359.9 855.8,362.4 C852.8,364.9 848.6,364.9 845.3,366.8 C842.0,368.7 841.0,371.8 839.1,371.8 C837.2,370.7 837.0,365.7 835.6,361.5 C834.2,357.3 833.7,351.9 832.1,351.0 C830.5,351.0 830.7,354.1 827.7,357.1 C824.7,360.1 820.5,361.6 817.1,366.0 C813.7,370.4 813.0,376.2 810.9,379.2 C808.8,380.9 808.4,379.3 806.5,380.9 C804.6,382.5 803.6,387.1 801.3,387.1 C799.0,385.7 798.8,374.9 795.1,373.9 C791.4,373.9 786.1,381.6 782.8,382.3 C779.5,382.3 780.3,377.4 778.4,377.4 C776.5,378.1 775.0,385.0 773.1,385.8 C771.2,385.8 770.3,381.3 768.7,381.3 C767.1,381.8 766.4,387.0 765.2,388.3 C764.0,388.3 764.4,388.3 762.5,388.0 C760.6,382.6 758.0,370.3 755.5,361.5 C753.0,352.7 751.8,346.7 750.2,343.9 C748.6,343.9 749.1,344.0 747.6,347.5 C746.1,351.0 744.4,359.7 742.8,361.5 C741.2,361.5 741.1,359.8 739.6,356.3 C738.1,352.8 736.8,344.3 735.2,343.9 C733.6,343.9 733.1,348.9 731.7,354.5 C730.3,360.1 729.4,368.8 728.2,372.1 C727.0,372.1 726.1,371.4 725.6,371.2 Z" fill="#ffdcbd" stroke="none"/>
<path d="M725.6,321.1 C726.3,318.3 727.7,314.2 729.1,307.0 C730.5,299.8 731.4,290.3 732.6,285.0 C733.8,280.6 734.1,280.6 735.2,280.6 C736.3,281.5 736.7,283.2 737.9,289.4 C739.1,295.6 740.3,306.7 741.4,311.4 C742.5,313.1 742.3,313.1 743.5,313.1 C744.7,312.6 746.1,309.1 747.6,309.1 C749.1,309.3 749.0,309.1 751.1,314.0 C753.2,319.6 756.1,331.4 758.1,336.9 C760.1,341.3 759.5,341.3 761.1,341.3 C762.7,340.1 764.4,333.0 766.1,330.7 C767.8,329.9 768.0,329.9 769.6,329.9 C771.2,331.7 772.6,336.5 774.0,339.5 C775.4,342.5 774.8,344.8 776.6,344.8 C778.4,342.5 780.3,334.6 782.8,328.1 C785.3,321.6 787.0,316.1 788.9,312.3 C790.8,309.1 791.1,309.1 792.5,309.1 C793.9,309.6 794.2,311.1 796.0,314.9 C797.8,318.7 799.5,325.5 801.3,328.1 C803.1,328.1 803.2,328.1 804.8,328.1 C806.4,330.0 807.6,337.8 809.2,337.8 C810.8,335.0 811.4,320.7 812.7,314.0 C814.0,307.3 814.3,304.3 815.7,304.3 C817.1,304.8 817.9,316.3 819.8,316.7 C821.7,316.7 823.2,308.7 825.0,306.1 C826.8,303.8 826.3,303.8 828.6,303.8 C830.9,305.6 833.9,314.6 836.5,314.9 C839.1,314.9 839.7,306.6 841.8,305.2 C843.9,305.2 844.2,307.9 847.0,307.9 C849.8,306.7 853.1,302.7 855.8,299.0 C858.5,295.3 858.5,291.9 860.3,289.4 C862.1,286.9 862.6,286.7 864.7,286.7 C866.8,289.3 868.9,299.4 870.8,302.6 C872.7,302.6 872.6,302.6 874.4,302.6 C876.2,306.5 877.1,318.9 879.6,321.9 C882.1,321.9 883.9,319.6 886.7,317.5 C889.5,315.4 890.5,313.2 893.7,311.4 C896.9,309.6 899.7,308.6 902.5,308.4 C905.3,308.4 905.3,310.5 907.8,310.5 C910.3,307.6 913.0,297.0 914.9,293.8 C916.8,293.8 915.7,293.8 917.5,294.3 C919.3,295.9 920.7,299.2 923.7,301.7 C926.7,304.2 929.7,304.2 932.5,307.0 C935.3,309.8 935.8,315.2 937.7,315.8 C939.6,315.8 940.7,310.6 942.1,310.1 C943.5,310.1 943.4,310.1 944.8,313.1 C946.2,317.8 947.6,329.6 949.2,333.4 C950.8,333.4 951.1,332.0 952.7,332.0 C954.3,332.3 955.5,335.0 957.1,335.1 C958.7,335.1 958.5,332.5 960.6,332.5 C962.7,333.6 965.2,340.8 967.7,340.8 C970.2,338.6 971.5,325.5 973.0,321.4 C974.5,320.2 973.6,320.2 975.1,320.2 C976.6,321.6 977.1,328.0 980.4,328.5 C983.7,328.5 988.7,323.5 991.4,322.5 C994.1,322.5 993.4,322.8 994.1,323.7 C994.8,324.6 994.7,326.5 994.9,327.2" fill="none" stroke="#fdbb7d" stroke-width="4" stroke-linejoin="round" stroke-linecap="butt"/>
<path d="M725.6,371.2 C726.1,371.4 727.0,372.1 728.2,372.1 C729.4,368.8 730.3,360.1 731.7,354.5 C733.1,348.9 733.6,343.9 735.2,343.9 C736.8,344.3 738.1,352.8 739.6,356.3 C741.1,359.8 741.2,361.5 742.8,361.5 C744.4,359.7 746.1,351.0 747.6,347.5 C749.1,344.0 748.6,343.9 750.2,343.9 C751.8,346.7 753.0,352.7 755.5,361.5 C758.0,370.3 760.6,382.6 762.5,388.0 C764.4,388.3 764.0,388.3 765.2,388.3 C766.4,387.0 767.1,381.8 768.7,381.3 C770.3,381.3 771.2,385.8 773.1,385.8 C775.0,385.0 776.5,378.1 778.4,377.4 C780.3,377.4 779.5,382.3 782.8,382.3 C786.1,381.6 791.4,373.9 795.1,373.9 C798.8,374.9 799.0,385.7 801.3,387.1 C803.6,387.1 804.6,382.5 806.5,380.9 C808.4,379.3 808.8,380.9 810.9,379.2 C813.0,376.2 813.7,370.4 817.1,366.0 C820.5,361.6 824.7,360.1 827.7,357.1 C830.7,354.1 830.5,351.0 832.1,351.0 C833.7,351.9 834.2,357.3 835.6,361.5 C837.0,365.7 837.2,370.7 839.1,371.8 C841.0,371.8 842.0,368.7 845.3,366.8 C848.6,364.9 852.8,364.9 855.8,362.4 C858.8,359.9 858.4,357.8 860.3,354.5 C862.2,351.2 863.2,345.7 865.2,345.7 C867.2,345.8 868.4,354.7 870.5,354.9 C872.6,354.9 873.6,346.6 875.8,346.6 C878.0,347.0 878.9,353.1 881.4,357.1 C883.9,361.1 885.9,366.8 888.5,366.8 C891.1,366.6 892.5,359.1 894.6,356.3 C896.7,353.5 896.5,352.7 899.0,352.7 C901.5,353.7 903.6,361.2 906.9,361.2 C910.2,360.5 911.5,349.2 915.7,349.2 C919.9,350.3 924.6,364.7 928.1,366.8 C931.6,366.8 931.5,360.9 933.3,359.8 C935.1,359.8 935.1,361.2 936.9,361.2 C938.7,358.9 940.6,348.3 942.5,348.3 C944.4,348.4 944.3,358.8 946.5,361.5 C948.7,361.9 948.8,361.5 953.6,361.9 C958.4,363.0 965.7,367.2 970.3,367.2 C974.9,367.0 974.2,361.1 976.5,360.7 C978.8,360.7 979.3,361.4 981.8,365.1 C984.3,368.8 986.5,374.3 988.8,379.2 C991.1,384.1 992.2,387.2 993.4,389.4 C994.6,390.0 994.6,389.9 994.9,390.0" fill="none" stroke="#fdbb7d" stroke-width="4" stroke-linejoin="round" stroke-linecap="butt"/>
<path d="M725.6,321.1 C726.3,318.3 727.7,314.2 729.1,307.0 C730.5,299.8 731.4,290.3 732.6,285.0 C733.8,280.6 734.1,280.6 735.2,280.6 C736.3,281.5 736.7,283.2 737.9,289.4 C739.1,295.6 740.3,306.7 741.4,311.4 C742.5,313.1 742.3,313.1 743.5,313.1 C744.7,312.6 746.1,309.1 747.6,309.1 C749.1,309.3 749.0,309.1 751.1,314.0 C753.2,319.6 756.1,331.4 758.1,336.9 C760.1,341.3 759.5,341.3 761.1,341.3 C762.7,340.1 764.4,333.0 766.1,330.7 C767.8,329.9 768.0,329.9 769.6,329.9 C771.2,331.7 772.6,336.5 774.0,339.5 C775.4,342.5 774.8,344.8 776.6,344.8 C778.4,342.5 780.3,334.6 782.8,328.1 C785.3,321.6 787.0,316.1 788.9,312.3 C790.8,309.1 791.1,309.1 792.5,309.1 C793.9,309.6 794.2,311.1 796.0,314.9 C797.8,318.7 799.5,325.5 801.3,328.1 C803.1,328.1 803.2,328.1 804.8,328.1 C806.4,330.0 807.6,337.8 809.2,337.8 C810.8,335.0 811.4,320.7 812.7,314.0 C814.0,307.3 814.3,304.3 815.7,304.3 C817.1,304.8 817.9,316.3 819.8,316.7 C821.7,316.7 823.2,308.7 825.0,306.1 C826.8,303.8 826.3,303.8 828.6,303.8 C830.9,305.6 833.9,314.6 836.5,314.9 C839.1,314.9 839.7,306.6 841.8,305.2 C843.9,305.2 844.2,307.9 847.0,307.9 C849.8,306.7 853.1,302.7 855.8,299.0 C858.5,295.3 858.5,291.9 860.3,289.4 C862.1,286.9 862.6,286.7 864.7,286.7 C866.8,289.3 868.9,299.4 870.8,302.6 C872.7,302.6 872.6,302.6 874.4,302.6 C876.2,306.5 877.1,318.9 879.6,321.9 C882.1,321.9 883.9,319.6 886.7,317.5 C889.5,315.4 890.5,313.2 893.7,311.4 C896.9,309.6 899.7,308.6 902.5,308.4 C905.3,308.4 905.3,310.5 907.8,310.5 C910.3,307.6 913.0,297.0 914.9,293.8 C916.8,293.8 915.7,293.8 917.5,294.3 C919.3,295.9 920.7,299.2 923.7,301.7 C926.7,304.2 929.7,304.2 932.5,307.0 C935.3,309.8 935.8,315.2 937.7,315.8 C939.6,315.8 940.7,310.6 942.1,310.1 C943.5,310.1 943.4,310.1 944.8,313.1 C946.2,317.8 947.6,329.6 949.2,333.4 C950.8,333.4 951.1,332.0 952.7,332.0 C954.3,332.3 955.5,335.0 957.1,335.1 C958.7,335.1 958.5,332.5 960.6,332.5 C962.7,333.6 965.2,340.8 967.7,340.8 C970.2,338.6 971.5,325.5 973.0,321.4 C974.5,320.2 973.6,320.2 975.1,320.2 C976.6,321.6 977.1,328.0 980.4,328.5 C983.7,328.5 988.7,323.5 991.4,322.5 C994.1,322.5 993.4,322.8 994.1,323.7 C994.8,324.6 994.7,326.5 994.9,327.2" fill="none" stroke="#fdcda2" stroke-width="1.3" stroke-linejoin="round" stroke-linecap="butt"/>
<path d="M725.6,371.2 C726.1,371.4 727.0,372.1 728.2,372.1 C729.4,368.8 730.3,360.1 731.7,354.5 C733.1,348.9 733.6,343.9 735.2,343.9 C736.8,344.3 738.1,352.8 739.6,356.3 C741.1,359.8 741.2,361.5 742.8,361.5 C744.4,359.7 746.1,351.0 747.6,347.5 C749.1,344.0 748.6,343.9 750.2,343.9 C751.8,346.7 753.0,352.7 755.5,361.5 C758.0,370.3 760.6,382.6 762.5,388.0 C764.4,388.3 764.0,388.3 765.2,388.3 C766.4,387.0 767.1,381.8 768.7,381.3 C770.3,381.3 771.2,385.8 773.1,385.8 C775.0,385.0 776.5,378.1 778.4,377.4 C780.3,377.4 779.5,382.3 782.8,382.3 C786.1,381.6 791.4,373.9 795.1,373.9 C798.8,374.9 799.0,385.7 801.3,387.1 C803.6,387.1 804.6,382.5 806.5,380.9 C808.4,379.3 808.8,380.9 810.9,379.2 C813.0,376.2 813.7,370.4 817.1,366.0 C820.5,361.6 824.7,360.1 827.7,357.1 C830.7,354.1 830.5,351.0 832.1,351.0 C833.7,351.9 834.2,357.3 835.6,361.5 C837.0,365.7 837.2,370.7 839.1,371.8 C841.0,371.8 842.0,368.7 845.3,366.8 C848.6,364.9 852.8,364.9 855.8,362.4 C858.8,359.9 858.4,357.8 860.3,354.5 C862.2,351.2 863.2,345.7 865.2,345.7 C867.2,345.8 868.4,354.7 870.5,354.9 C872.6,354.9 873.6,346.6 875.8,346.6 C878.0,347.0 878.9,353.1 881.4,357.1 C883.9,361.1 885.9,366.8 888.5,366.8 C891.1,366.6 892.5,359.1 894.6,356.3 C896.7,353.5 896.5,352.7 899.0,352.7 C901.5,353.7 903.6,361.2 906.9,361.2 C910.2,360.5 911.5,349.2 915.7,349.2 C919.9,350.3 924.6,364.7 928.1,366.8 C931.6,366.8 931.5,360.9 933.3,359.8 C935.1,359.8 935.1,361.2 936.9,361.2 C938.7,358.9 940.6,348.3 942.5,348.3 C944.4,348.4 944.3,358.8 946.5,361.5 C948.7,361.9 948.8,361.5 953.6,361.9 C958.4,363.0 965.7,367.2 970.3,367.2 C974.9,367.0 974.2,361.1 976.5,360.7 C978.8,360.7 979.3,361.4 981.8,365.1 C984.3,368.8 986.5,374.3 988.8,379.2 C991.1,384.1 992.2,387.2 993.4,389.4 C994.6,390.0 994.6,389.9 994.9,390.0" fill="none" stroke="#fdcda2" stroke-width="1.3" stroke-linejoin="round" stroke-linecap="butt"/>
<path d="M726.4,346.6 C727.1,344.7 728.6,343.2 730.0,336.9 C731.4,330.6 732.3,319.8 733.5,314.9 C734.7,312.6 734.9,312.6 735.8,312.6 C736.7,313.7 736.8,315.5 737.9,320.2 C739.0,324.9 740.2,332.7 741.4,336.0 C742.6,336.5 742.6,336.5 744.0,336.5 C745.4,334.8 747.1,329.2 748.5,327.7 C749.9,327.7 749.3,327.7 751.1,329.0 C752.9,333.1 755.1,341.3 757.3,348.3 C759.5,355.3 760.8,361.2 762.2,364.2 C763.6,364.2 763.0,364.2 764.3,363.3 C765.6,361.8 766.8,356.6 768.7,356.6 C770.6,356.6 771.2,363.3 774.0,363.3 C776.8,363.2 779.8,360.0 782.8,356.3 C785.8,352.6 786.6,347.6 788.9,344.8 C791.2,342.5 791.9,342.5 794.2,342.5 C796.5,344.8 798.1,353.5 800.4,356.3 C802.7,356.3 803.8,356.3 805.7,356.3 C807.6,356.8 808.5,358.9 810.1,358.9 C811.7,355.7 812.4,345.0 813.6,340.4 C814.8,336.0 814.9,336.0 816.2,336.0 C817.5,336.0 818.4,340.4 820.3,340.4 C822.2,339.5 823.9,333.6 825.9,331.3 C827.9,329.0 828.7,329.0 830.3,329.0 C831.9,329.2 832.2,330.0 833.8,332.5 C835.4,335.0 836.4,340.5 838.2,341.3 C840.0,341.3 840.9,337.2 842.6,336.5 C844.3,336.5 844.1,337.8 846.7,337.8 C849.3,336.8 853.1,334.6 855.8,331.6 C858.5,328.6 858.5,325.8 860.3,322.8 C862.1,319.8 863.5,317.7 864.7,316.7 C865.9,316.7 865.3,316.7 866.4,317.9 C867.5,320.1 868.2,326.0 870.0,327.7 C871.8,327.7 873.1,326.3 875.2,326.3 C877.3,328.6 877.8,335.8 880.5,339.0 C883.2,342.2 886.0,342.2 888.5,342.2 C891.0,341.3 890.4,336.3 892.9,334.3 C895.4,332.3 897.8,332.0 900.8,332.0 C903.8,332.2 904.8,335.5 907.8,335.5 C910.8,333.5 912.5,322.9 915.7,321.9 C918.9,321.9 921.1,328.0 923.7,330.7 C926.3,333.4 927.0,334.9 928.9,335.5 C930.8,335.5 931.5,333.7 933.3,333.7 C935.1,334.3 935.9,338.3 937.7,338.3 C939.5,337.5 941.1,331.1 942.5,329.9 C943.9,329.9 943.6,329.9 944.8,332.5 C946.0,335.8 946.5,343.6 948.3,346.6 C950.1,347.5 951.1,347.2 953.6,347.5 C956.1,347.8 957.6,347.5 960.6,348.3 C963.6,349.5 965.7,353.6 968.6,353.6 C971.5,352.2 972.6,342.8 975.1,341.3 C977.6,341.3 978.2,344.3 980.9,346.1 C983.6,347.9 986.4,348.2 988.8,350.1 C991.2,352.0 991.5,353.1 992.7,355.4 C993.9,357.7 994.5,360.3 995.0,361.5" fill="none" stroke="#ff7f0e" stroke-width="4.6" stroke-linejoin="round" stroke-linecap="butt"/>
</g>
<g>
<path d="M70.2,551.8 C70.4,554.8 70.4,565.5 71.4,567.0 C72.4,567.0 73.7,559.4 75.3,559.4 C76.9,560.1 78.0,567.5 79.5,570.4 C81.0,573.3 81.2,573.8 82.9,573.8 C84.6,573.8 86.3,570.4 88.0,570.4 C89.7,574.1 90.1,587.7 91.4,592.4 C92.7,594.1 92.7,592.4 94.3,594.1 C95.9,597.3 97.8,608.2 99.4,608.5 C101.0,608.5 101.3,601.7 102.4,595.8 C103.5,589.9 103.7,582.8 104.9,578.9 C106.1,576.3 107.1,576.3 108.3,576.3 C109.5,578.7 109.5,588.0 110.9,590.7 C112.3,590.7 113.5,589.9 115.1,589.9 C116.7,591.8 117.7,600.0 119.0,600.0 C120.3,600.0 120.3,590.4 121.4,589.9 C122.5,589.9 123.1,593.7 124.4,597.5 C125.7,601.3 126.0,608.8 127.8,609.0 C129.6,609.0 130.8,598.3 133.2,598.3 C135.6,598.4 137.8,608.2 139.6,609.7 C141.4,609.7 140.8,606.0 142.2,605.9 C143.6,605.9 144.9,609.0 146.4,609.0 C147.9,607.8 148.3,602.1 149.8,600.0 C151.3,598.3 152.6,598.5 154.0,598.3 C155.4,598.3 155.9,599.2 156.9,599.2 C157.9,598.0 158.0,599.0 159.1,592.4 C160.2,585.8 160.9,580.0 162.4,566.0 C163.9,552.0 165.3,532.3 166.6,522.4 C167.9,516.5 168.1,517.5 169.1,516.5 C170.1,516.5 170.6,517.3 171.6,517.3 C172.6,514.2 173.0,504.6 174.2,501.2 C175.4,500.4 176.3,501.2 177.6,500.4 C178.9,498.1 179.4,489.9 180.6,489.9 C181.8,490.2 182.2,499.3 183.5,502.1 C184.8,503.8 185.5,503.6 186.9,503.8 C188.3,503.8 189.1,503.8 190.3,502.9 C191.5,501.2 192.0,498.3 193.1,495.3 C194.2,492.3 194.7,487.7 195.7,487.7 C196.7,487.9 197.3,494.3 198.2,496.2 C199.1,497.0 199.3,496.2 200.4,497.0 C201.5,499.0 202.4,501.1 203.8,506.3 C205.2,511.5 205.7,520.3 207.2,523.2 C208.7,523.2 209.7,520.7 211.4,520.7 C213.1,522.5 213.5,531.2 215.7,532.0 C217.9,532.0 220.4,525.1 222.4,524.9 C224.4,524.9 224.6,527.0 225.8,530.9 C227.0,534.8 227.3,541.4 228.3,544.4 C229.3,546.1 229.8,544.4 230.9,546.1 C232.0,548.8 232.7,558.0 233.9,558.0 C235.1,556.9 235.4,545.1 236.8,540.5 C238.2,535.9 239.3,535.2 240.8,535.2 C242.3,536.1 242.8,544.4 244.2,544.8 C245.6,544.8 246.1,537.0 248.0,537.0 C249.9,538.2 251.8,548.8 253.8,550.7 C255.8,550.7 256.3,546.3 257.8,546.3 C259.3,546.4 259.7,547.5 261.3,551.2 C262.9,554.9 263.9,561.1 265.7,564.9 C267.5,568.7 267.5,570.2 270.3,570.2 C273.1,570.1 277.2,564.3 279.5,564.2 C281.8,564.2 280.2,566.8 281.8,569.5 C283.4,572.2 285.5,577.4 287.6,577.6 C289.7,577.6 290.8,572.0 292.2,570.6 C293.6,570.6 292.9,570.6 294.5,570.6 C296.1,563.5 298.1,542.7 300.2,534.9 C302.3,531.5 302.5,534.9 304.8,531.5 C307.1,527.4 309.9,518.1 311.8,514.2 C313.7,511.9 313.3,514.2 314.1,511.9 C314.9,509.3 314.9,501.8 315.7,501.1 C316.5,501.1 316.9,506.7 318.0,508.4 C319.1,509.6 319.7,508.4 321.0,509.6 C322.3,511.9 323.0,515.2 324.4,520.0 C325.8,524.8 326.1,531.0 327.9,533.8 C329.7,533.8 331.9,533.8 333.6,533.8 C335.3,535.2 335.1,540.2 336.4,540.7 C337.7,540.7 339.4,537.3 340.2,536.5 L340.2,621.3 C339.3,622.2 337.4,622.7 335.9,625.9 C334.4,629.1 333.9,635.0 332.5,637.5 C331.1,638.6 330.6,638.6 329.0,638.6 C327.4,638.4 326.0,638.4 324.4,636.3 C322.8,634.2 322.3,630.3 321.0,628.2 C319.7,626.1 319.0,628.2 318.0,625.9 C317.0,622.2 316.9,612.3 315.9,609.8 C314.9,609.8 314.3,611.9 312.9,613.3 C311.5,614.7 310.4,616.7 308.8,616.7 C307.2,616.0 306.1,609.9 304.8,609.8 C303.5,609.8 303.7,614.7 302.5,616.3 C301.3,617.9 300.3,616.3 298.6,617.9 C296.9,622.1 295.3,635.2 293.8,637.5 C292.3,637.5 292.7,631.3 291.0,629.4 C289.3,628.2 287.4,628.2 285.3,628.2 C283.2,629.4 282.5,635.0 280.6,635.2 C278.7,635.2 277.7,629.4 276.0,629.4 C274.3,630.2 273.3,639.3 271.9,639.3 C270.5,639.3 270.3,633.0 269.1,629.4 C267.9,625.8 267.3,626.1 265.7,621.3 C264.1,616.5 262.9,610.3 261.1,605.2 C259.3,600.1 258.0,597.6 256.5,596.0 C255.0,596.0 255.1,597.1 253.5,597.1 C251.9,595.5 250.6,587.9 248.4,587.9 C246.2,588.1 244.2,597.7 242.6,598.3 C241.0,598.3 241.2,592.5 240.3,590.9 C239.4,590.2 239.2,590.2 238.0,590.2 C236.8,592.6 235.5,601.7 234.1,602.9 C232.7,602.9 232.6,597.8 231.1,596.0 C229.6,594.2 228.5,595.3 226.5,593.7 C224.5,592.1 223.4,587.9 221.2,587.9 C219.0,589.3 218.1,600.1 215.7,600.6 C213.3,600.6 211.4,594.3 209.2,590.2 C207.0,586.1 206.2,584.6 204.6,580.0 C203.0,575.4 202.6,574.1 201.3,567.3 C200.0,560.5 199.1,554.4 197.9,546.1 C196.7,537.8 196.7,526.5 195.3,525.8 C193.9,525.8 192.8,541.7 191.1,542.4 C189.4,542.4 188.3,531.0 186.9,529.2 C185.5,529.2 185.2,533.4 184.0,533.4 C182.8,533.1 181.8,528.0 180.9,527.8 C180.0,527.8 180.1,530.8 179.3,532.6 C178.5,534.4 177.7,534.8 176.7,536.8 C175.7,538.8 175.4,539.0 174.5,542.7 C173.6,546.4 172.8,555.4 172.1,555.4 C171.4,555.4 171.6,543.7 170.8,542.7 C170.0,542.7 169.2,544.9 168.2,550.3 C167.2,555.7 166.7,560.7 165.7,569.8 C164.7,578.9 164.4,584.2 163.3,595.8 C162.2,607.4 161.3,620.6 160.0,628.0 C158.7,633.0 158.1,628.4 156.6,633.0 C155.1,637.6 153.8,647.9 152.3,650.8 C150.8,650.8 150.2,647.4 149.0,647.4 C147.8,648.1 147.6,654.2 146.4,654.2 C145.2,654.2 144.2,647.6 143.0,647.4 C141.8,647.4 141.9,653.3 140.5,653.3 C139.1,653.0 137.4,646.7 135.9,645.7 C134.4,645.7 134.5,645.7 132.9,648.3 C131.3,651.9 130.3,663.5 128.1,663.5 C125.9,662.3 123.7,645.3 121.9,642.3 C120.1,642.3 120.3,648.3 119.3,648.3 C118.3,647.0 118.0,637.8 116.8,635.6 C115.6,635.6 114.9,635.6 113.4,637.3 C111.9,641.7 110.9,655.4 109.5,657.6 C108.1,657.6 107.7,650.3 106.6,648.3 C105.5,647.4 105.4,647.4 104.1,647.4 C102.8,649.5 102.4,658.8 99.9,658.8 C97.4,657.6 93.9,647.5 91.4,641.5 C88.9,635.5 89.2,630.2 87.2,628.8 C85.2,628.8 83.2,633.9 81.2,634.7 C79.2,634.7 78.6,633.0 77.0,633.0 C75.4,635.4 74.8,645.1 73.3,646.6 C71.8,646.6 70.2,641.9 69.4,640.7 Z" fill="#dfcccf" stroke="none"/>
<path d="M70.2,551.8 C70.4,554.8 70.4,565.5 71.4,567.0 C72.4,567.0 73.7,559.4 75.3,559.4 C76.9,560.1 78.0,567.5 79.5,570.4 C81.0,573.3 81.2,573.8 82.9,573.8 C84.6,573.8 86.3,570.4 88.0,570.4 C89.7,574.1 90.1,587.7 91.4,592.4 C92.7,594.1 92.7,592.4 94.3,594.1 C95.9,597.3 97.8,608.2 99.4,608.5 C101.0,608.5 101.3,601.7 102.4,595.8 C103.5,589.9 103.7,582.8 104.9,578.9 C106.1,576.3 107.1,576.3 108.3,576.3 C109.5,578.7 109.5,588.0 110.9,590.7 C112.3,590.7 113.5,589.9 115.1,589.9 C116.7,591.8 117.7,600.0 119.0,600.0 C120.3,600.0 120.3,590.4 121.4,589.9 C122.5,589.9 123.1,593.7 124.4,597.5 C125.7,601.3 126.0,608.8 127.8,609.0 C129.6,609.0 130.8,598.3 133.2,598.3 C135.6,598.4 137.8,608.2 139.6,609.7 C141.4,609.7 140.8,606.0 142.2,605.9 C143.6,605.9 144.9,609.0 146.4,609.0 C147.9,607.8 148.3,602.1 149.8,600.0 C151.3,598.3 152.6,598.5 154.0,598.3 C155.4,598.3 155.9,599.2 156.9,599.2 C157.9,598.0 158.0,599.0 159.1,592.4 C160.2,585.8 160.9,580.0 162.4,566.0 C163.9,552.0 165.3,532.3 166.6,522.4 C167.9,516.5 168.1,517.5 169.1,516.5 C170.1,516.5 170.6,517.3 171.6,517.3 C172.6,514.2 173.0,504.6 174.2,501.2 C175.4,500.4 176.3,501.2 177.6,500.4 C178.9,498.1 179.4,489.9 180.6,489.9 C181.8,490.2 182.2,499.3 183.5,502.1 C184.8,503.8 185.5,503.6 186.9,503.8 C188.3,503.8 189.1,503.8 190.3,502.9 C191.5,501.2 192.0,498.3 193.1,495.3 C194.2,492.3 194.7,487.7 195.7,487.7 C196.7,487.9 197.3,494.3 198.2,496.2 C199.1,497.0 199.3,496.2 200.4,497.0 C201.5,499.0 202.4,501.1 203.8,506.3 C205.2,511.5 205.7,520.3 207.2,523.2 C208.7,523.2 209.7,520.7 211.4,520.7 C213.1,522.5 213.5,531.2 215.7,532.0 C217.9,532.0 220.4,525.1 222.4,524.9 C224.4,524.9 224.6,527.0 225.8,530.9 C227.0,534.8 227.3,541.4 228.3,544.4 C229.3,546.1 229.8,544.4 230.9,546.1 C232.0,548.8 232.7,558.0 233.9,558.0 C235.1,556.9 235.4,545.1 236.8,540.5 C238.2,535.9 239.3,535.2 240.8,535.2 C242.3,536.1 242.8,544.4 244.2,544.8 C245.6,544.8 246.1,537.0 248.0,537.0 C249.9,538.2 251.8,548.8 253.8,550.7 C255.8,550.7 256.3,546.3 257.8,546.3 C259.3,546.4 259.7,547.5 261.3,551.2 C262.9,554.9 263.9,561.1 265.7,564.9 C267.5,568.7 267.5,570.2 270.3,570.2 C273.1,570.1 277.2,564.3 279.5,564.2 C281.8,564.2 280.2,566.8 281.8,569.5 C283.4,572.2 285.5,577.4 287.6,577.6 C289.7,577.6 290.8,572.0 292.2,570.6 C293.6,570.6 292.9,570.6 294.5,570.6 C296.1,563.5 298.1,542.7 300.2,534.9 C302.3,531.5 302.5,534.9 304.8,531.5 C307.1,527.4 309.9,518.1 311.8,514.2 C313.7,511.9 313.3,514.2 314.1,511.9 C314.9,509.3 314.9,501.8 315.7,501.1 C316.5,501.1 316.9,506.7 318.0,508.4 C319.1,509.6 319.7,508.4 321.0,509.6 C322.3,511.9 323.0,515.2 324.4,520.0 C325.8,524.8 326.1,531.0 327.9,533.8 C329.7,533.8 331.9,533.8 333.6,533.8 C335.3,535.2 335.1,540.2 336.4,540.7 C337.7,540.7 339.4,537.3 340.2,536.5" fill="none" stroke="#d6879b" stroke-width="4.5" stroke-linejoin="round" stroke-linecap="butt"/>
<path d="M69.4,640.7 C70.2,641.9 71.8,646.6 73.3,646.6 C74.8,645.1 75.4,635.4 77.0,633.0 C78.6,633.0 79.2,634.7 81.2,634.7 C83.2,633.9 85.2,628.8 87.2,628.8 C89.2,630.2 88.9,635.5 91.4,641.5 C93.9,647.5 97.4,657.6 99.9,658.8 C102.4,658.8 102.8,649.5 104.1,647.4 C105.4,647.4 105.5,647.4 106.6,648.3 C107.7,650.3 108.1,657.6 109.5,657.6 C110.9,655.4 111.9,641.7 113.4,637.3 C114.9,635.6 115.6,635.6 116.8,635.6 C118.0,637.8 118.3,647.0 119.3,648.3 C120.3,648.3 120.1,642.3 121.9,642.3 C123.7,645.3 125.9,662.3 128.1,663.5 C130.3,663.5 131.3,651.9 132.9,648.3 C134.5,645.7 134.4,645.7 135.9,645.7 C137.4,646.7 139.1,653.0 140.5,653.3 C141.9,653.3 141.8,647.4 143.0,647.4 C144.2,647.6 145.2,654.2 146.4,654.2 C147.6,654.2 147.8,648.1 149.0,647.4 C150.2,647.4 150.8,650.8 152.3,650.8 C153.8,647.9 155.1,637.6 156.6,633.0 C158.1,628.4 158.7,633.0 160.0,628.0 C161.3,620.6 162.2,607.4 163.3,595.8 C164.4,584.2 164.7,578.9 165.7,569.8 C166.7,560.7 167.2,555.7 168.2,550.3 C169.2,544.9 170.0,542.7 170.8,542.7 C171.6,543.7 171.4,555.4 172.1,555.4 C172.8,555.4 173.6,546.4 174.5,542.7 C175.4,539.0 175.7,538.8 176.7,536.8 C177.7,534.8 178.5,534.4 179.3,532.6 C180.1,530.8 180.0,527.8 180.9,527.8 C181.8,528.0 182.8,533.1 184.0,533.4 C185.2,533.4 185.5,529.2 186.9,529.2 C188.3,531.0 189.4,542.4 191.1,542.4 C192.8,541.7 193.9,525.8 195.3,525.8 C196.7,526.5 196.7,537.8 197.9,546.1 C199.1,554.4 200.0,560.5 201.3,567.3 C202.6,574.1 203.0,575.4 204.6,580.0 C206.2,584.6 207.0,586.1 209.2,590.2 C211.4,594.3 213.3,600.6 215.7,600.6 C218.1,600.1 219.0,589.3 221.2,587.9 C223.4,587.9 224.5,592.1 226.5,593.7 C228.5,595.3 229.6,594.2 231.1,596.0 C232.6,597.8 232.7,602.9 234.1,602.9 C235.5,601.7 236.8,592.6 238.0,590.2 C239.2,590.2 239.4,590.2 240.3,590.9 C241.2,592.5 241.0,598.3 242.6,598.3 C244.2,597.7 246.2,588.1 248.4,587.9 C250.6,587.9 251.9,595.5 253.5,597.1 C255.1,597.1 255.0,596.0 256.5,596.0 C258.0,597.6 259.3,600.1 261.1,605.2 C262.9,610.3 264.1,616.5 265.7,621.3 C267.3,626.1 267.9,625.8 269.1,629.4 C270.3,633.0 270.5,639.3 271.9,639.3 C273.3,639.3 274.3,630.2 276.0,629.4 C277.7,629.4 278.7,635.2 280.6,635.2 C282.5,635.0 283.2,629.4 285.3,628.2 C287.4,628.2 289.3,628.2 291.0,629.4 C292.7,631.3 292.3,637.5 293.8,637.5 C295.3,635.2 296.9,622.1 298.6,617.9 C300.3,616.3 301.3,617.9 302.5,616.3 C303.7,614.7 303.5,609.8 304.8,609.8 C306.1,609.9 307.2,616.0 308.8,616.7 C310.4,616.7 311.5,614.7 312.9,613.3 C314.3,611.9 314.9,609.8 315.9,609.8 C316.9,612.3 317.0,622.2 318.0,625.9 C319.0,628.2 319.7,626.1 321.0,628.2 C322.3,630.3 322.8,634.2 324.4,636.3 C326.0,638.4 327.4,638.4 329.0,638.6 C330.6,638.6 331.1,638.6 332.5,637.5 C333.9,635.0 334.4,629.1 335.9,625.9 C337.4,622.7 339.3,622.2 340.2,621.3" fill="none" stroke="#d6879b" stroke-width="4.5" stroke-linejoin="round" stroke-linecap="butt"/>
<path d="M70.2,551.8 C70.4,554.8 70.4,565.5 71.4,567.0 C72.4,567.0 73.7,559.4 75.3,559.4 C76.9,560.1 78.0,567.5 79.5,570.4 C81.0,573.3 81.2,573.8 82.9,573.8 C84.6,573.8 86.3,570.4 88.0,570.4 C89.7,574.1 90.1,587.7 91.4,592.4 C92.7,594.1 92.7,592.4 94.3,594.1 C95.9,597.3 97.8,608.2 99.4,608.5 C101.0,608.5 101.3,601.7 102.4,595.8 C103.5,589.9 103.7,582.8 104.9,578.9 C106.1,576.3 107.1,576.3 108.3,576.3 C109.5,578.7 109.5,588.0 110.9,590.7 C112.3,590.7 113.5,589.9 115.1,589.9 C116.7,591.8 117.7,600.0 119.0,600.0 C120.3,600.0 120.3,590.4 121.4,589.9 C122.5,589.9 123.1,593.7 124.4,597.5 C125.7,601.3 126.0,608.8 127.8,609.0 C129.6,609.0 130.8,598.3 133.2,598.3 C135.6,598.4 137.8,608.2 139.6,609.7 C141.4,609.7 140.8,606.0 142.2,605.9 C143.6,605.9 144.9,609.0 146.4,609.0 C147.9,607.8 148.3,602.1 149.8,600.0 C151.3,598.3 152.6,598.5 154.0,598.3 C155.4,598.3 155.9,599.2 156.9,599.2 C157.9,598.0 158.0,599.0 159.1,592.4 C160.2,585.8 160.9,580.0 162.4,566.0 C163.9,552.0 165.3,532.3 166.6,522.4 C167.9,516.5 168.1,517.5 169.1,516.5 C170.1,516.5 170.6,517.3 171.6,517.3 C172.6,514.2 173.0,504.6 174.2,501.2 C175.4,500.4 176.3,501.2 177.6,500.4 C178.9,498.1 179.4,489.9 180.6,489.9 C181.8,490.2 182.2,499.3 183.5,502.1 C184.8,503.8 185.5,503.6 186.9,503.8 C188.3,503.8 189.1,503.8 190.3,502.9 C191.5,501.2 192.0,498.3 193.1,495.3 C194.2,492.3 194.7,487.7 195.7,487.7 C196.7,487.9 197.3,494.3 198.2,496.2 C199.1,497.0 199.3,496.2 200.4,497.0 C201.5,499.0 202.4,501.1 203.8,506.3 C205.2,511.5 205.7,520.3 207.2,523.2 C208.7,523.2 209.7,520.7 211.4,520.7 C213.1,522.5 213.5,531.2 215.7,532.0 C217.9,532.0 220.4,525.1 222.4,524.9 C224.4,524.9 224.6,527.0 225.8,530.9 C227.0,534.8 227.3,541.4 228.3,544.4 C229.3,546.1 229.8,544.4 230.9,546.1 C232.0,548.8 232.7,558.0 233.9,558.0 C235.1,556.9 235.4,545.1 236.8,540.5 C238.2,535.9 239.3,535.2 240.8,535.2 C242.3,536.1 242.8,544.4 244.2,544.8 C245.6,544.8 246.1,537.0 248.0,537.0 C249.9,538.2 251.8,548.8 253.8,550.7 C255.8,550.7 256.3,546.3 257.8,546.3 C259.3,546.4 259.7,547.5 261.3,551.2 C262.9,554.9 263.9,561.1 265.7,564.9 C267.5,568.7 267.5,570.2 270.3,570.2 C273.1,570.1 277.2,564.3 279.5,564.2 C281.8,564.2 280.2,566.8 281.8,569.5 C283.4,572.2 285.5,577.4 287.6,577.6 C289.7,577.6 290.8,572.0 292.2,570.6 C293.6,570.6 292.9,570.6 294.5,570.6 C296.1,563.5 298.1,542.7 300.2,534.9 C302.3,531.5 302.5,534.9 304.8,531.5 C307.1,527.4 309.9,518.1 311.8,514.2 C313.7,511.9 313.3,514.2 314.1,511.9 C314.9,509.3 314.9,501.8 315.7,501.1 C316.5,501.1 316.9,506.7 318.0,508.4 C319.1,509.6 319.7,508.4 321.0,509.6 C322.3,511.9 323.0,515.2 324.4,520.0 C325.8,524.8 326.1,531.0 327.9,533.8 C329.7,533.8 331.9,533.8 333.6,533.8 C335.3,535.2 335.1,540.2 336.4,540.7 C337.7,540.7 339.4,537.3 340.2,536.5" fill="none" stroke="#e1a1b2" stroke-width="1.3" stroke-linejoin="round" stroke-linecap="butt"/>
<path d="M69.4,640.7 C70.2,641.9 71.8,646.6 73.3,646.6 C74.8,645.1 75.4,635.4 77.0,633.0 C78.6,633.0 79.2,634.7 81.2,634.7 C83.2,633.9 85.2,628.8 87.2,628.8 C89.2,630.2 88.9,635.5 91.4,641.5 C93.9,647.5 97.4,657.6 99.9,658.8 C102.4,658.8 102.8,649.5 104.1,647.4 C105.4,647.4 105.5,647.4 106.6,648.3 C107.7,650.3 108.1,657.6 109.5,657.6 C110.9,655.4 111.9,641.7 113.4,637.3 C114.9,635.6 115.6,635.6 116.8,635.6 C118.0,637.8 118.3,647.0 119.3,648.3 C120.3,648.3 120.1,642.3 121.9,642.3 C123.7,645.3 125.9,662.3 128.1,663.5 C130.3,663.5 131.3,651.9 132.9,648.3 C134.5,645.7 134.4,645.7 135.9,645.7 C137.4,646.7 139.1,653.0 140.5,653.3 C141.9,653.3 141.8,647.4 143.0,647.4 C144.2,647.6 145.2,654.2 146.4,654.2 C147.6,654.2 147.8,648.1 149.0,647.4 C150.2,647.4 150.8,650.8 152.3,650.8 C153.8,647.9 155.1,637.6 156.6,633.0 C158.1,628.4 158.7,633.0 160.0,628.0 C161.3,620.6 162.2,607.4 163.3,595.8 C164.4,584.2 164.7,578.9 165.7,569.8 C166.7,560.7 167.2,555.7 168.2,550.3 C169.2,544.9 170.0,542.7 170.8,542.7 C171.6,543.7 171.4,555.4 172.1,555.4 C172.8,555.4 173.6,546.4 174.5,542.7 C175.4,539.0 175.7,538.8 176.7,536.8 C177.7,534.8 178.5,534.4 179.3,532.6 C180.1,530.8 180.0,527.8 180.9,527.8 C181.8,528.0 182.8,533.1 184.0,533.4 C185.2,533.4 185.5,529.2 186.9,529.2 C188.3,531.0 189.4,542.4 191.1,542.4 C192.8,541.7 193.9,525.8 195.3,525.8 C196.7,526.5 196.7,537.8 197.9,546.1 C199.1,554.4 200.0,560.5 201.3,567.3 C202.6,574.1 203.0,575.4 204.6,580.0 C206.2,584.6 207.0,586.1 209.2,590.2 C211.4,594.3 213.3,600.6 215.7,600.6 C218.1,600.1 219.0,589.3 221.2,587.9 C223.4,587.9 224.5,592.1 226.5,593.7 C228.5,595.3 229.6,594.2 231.1,596.0 C232.6,597.8 232.7,602.9 234.1,602.9 C235.5,601.7 236.8,592.6 238.0,590.2 C239.2,590.2 239.4,590.2 240.3,590.9 C241.2,592.5 241.0,598.3 242.6,598.3 C244.2,597.7 246.2,588.1 248.4,587.9 C250.6,587.9 251.9,595.5 253.5,597.1 C255.1,597.1 255.0,596.0 256.5,596.0 C258.0,597.6 259.3,600.1 261.1,605.2 C262.9,610.3 264.1,616.5 265.7,621.3 C267.3,626.1 267.9,625.8 269.1,629.4 C270.3,633.0 270.5,639.3 271.9,639.3 C273.3,639.3 274.3,630.2 276.0,629.4 C277.7,629.4 278.7,635.2 280.6,635.2 C282.5,635.0 283.2,629.4 285.3,628.2 C287.4,628.2 289.3,628.2 291.0,629.4 C292.7,631.3 292.3,637.5 293.8,637.5 C295.3,635.2 296.9,622.1 298.6,617.9 C300.3,616.3 301.3,617.9 302.5,616.3 C303.7,614.7 303.5,609.8 304.8,609.8 C306.1,609.9 307.2,616.0 308.8,616.7 C310.4,616.7 311.5,614.7 312.9,613.3 C314.3,611.9 314.9,609.8 315.9,609.8 C316.9,612.3 317.0,622.2 318.0,625.9 C319.0,628.2 319.7,626.1 321.0,628.2 C322.3,630.3 322.8,634.2 324.4,636.3 C326.0,638.4 327.4,638.4 329.0,638.6 C330.6,638.6 331.1,638.6 332.5,637.5 C333.9,635.0 334.4,629.1 335.9,625.9 C337.4,622.7 339.3,622.2 340.2,621.3" fill="none" stroke="#e1a1b2" stroke-width="1.3" stroke-linejoin="round" stroke-linecap="butt"/>
<path d="M69.4,595.8 C69.9,597.8 70.9,604.2 71.9,605.9 C72.9,605.9 73.7,605.9 74.5,604.3 C75.3,602.6 74.5,597.8 75.7,597.5 C76.9,597.5 78.8,601.6 80.4,602.6 C82.0,602.6 82.3,602.6 83.8,602.6 C85.3,602.0 86.6,599.5 88.0,599.5 C89.4,601.9 89.1,609.4 90.6,614.4 C92.1,619.4 93.8,620.7 95.6,624.6 C97.4,628.5 98.1,633.6 99.4,633.9 C100.7,633.9 101.0,630.4 102.1,626.3 C103.2,622.2 103.8,616.3 104.9,613.6 C106.0,612.7 106.8,612.7 107.8,612.7 C108.8,614.9 108.9,624.6 110.0,624.6 C111.1,624.6 112.1,614.9 113.4,612.7 C114.7,612.7 115.1,612.7 116.3,613.6 C117.5,616.0 118.2,623.9 119.3,624.6 C120.4,624.6 120.9,617.2 121.9,616.9 C122.9,616.9 123.1,619.2 124.4,622.9 C125.7,626.6 126.9,635.3 128.6,635.6 C130.3,635.6 131.6,626.7 132.9,624.2 C134.2,623.2 133.6,623.2 134.9,623.2 C136.2,624.5 138.0,629.9 139.6,630.5 C141.2,630.5 141.6,626.3 143.0,626.3 C144.4,626.5 145.2,631.3 146.4,631.3 C147.6,631.0 147.6,626.6 149.0,624.6 C150.4,622.6 151.7,622.6 153.2,621.2 C154.7,619.8 155.2,620.2 156.6,617.8 C158.0,615.4 158.8,615.4 160.0,609.3 C161.2,603.2 161.6,596.6 162.5,587.3 C163.4,578.0 163.4,572.9 164.4,563.0 C165.4,553.1 166.4,543.4 167.4,537.6 C168.4,533.9 168.4,533.9 169.4,533.9 C170.4,533.9 171.4,537.6 172.5,537.6 C173.6,534.8 174.0,523.6 175.0,519.9 C176.0,519.0 176.4,519.9 177.6,519.0 C178.8,517.0 179.6,509.9 180.9,509.7 C182.2,509.7 182.8,517.0 184.0,518.2 C185.2,518.2 185.6,515.6 186.9,515.6 C188.2,517.3 189.0,526.3 190.3,526.6 C191.6,526.6 192.5,521.4 193.6,517.3 C194.7,513.2 194.8,506.3 195.7,506.3 C196.6,507.3 196.9,516.6 198.2,522.4 C199.5,528.2 200.8,529.7 202.1,535.1 C203.4,540.5 203.4,545.1 204.6,549.5 C205.8,553.9 206.6,555.7 208.0,557.1 C209.4,557.1 209.8,556.3 211.4,556.3 C213.0,558.3 214.2,567.1 216.2,567.3 C218.2,567.3 219.5,557.1 221.6,557.1 C223.7,557.4 224.7,566.1 226.6,569.0 C228.5,571.5 229.4,569.0 230.9,571.5 C232.4,574.4 232.7,583.3 234.2,583.3 C235.7,581.9 236.9,568.2 238.3,564.4 C239.7,564.4 239.9,564.4 241.0,564.5 C242.1,566.1 242.2,572.6 243.7,572.6 C245.2,572.3 246.6,563.2 248.5,563.2 C250.4,563.3 251.6,571.2 253.2,573.0 C254.8,573.0 254.8,572.0 256.4,572.0 C258.0,573.0 259.1,573.4 261.2,578.0 C263.3,582.6 264.5,589.4 266.8,594.8 C269.1,600.2 270.5,604.5 272.6,605.2 C274.7,605.2 275.4,598.9 277.2,598.3 C279.0,598.3 279.7,601.5 281.8,602.4 C283.9,602.9 285.5,602.9 287.6,602.9 C289.7,602.3 290.8,599.4 292.2,599.4 C293.6,599.6 293.1,604.0 294.5,604.0 C295.9,600.6 297.3,588.5 299.1,582.2 C300.9,575.9 301.8,575.3 303.7,572.5 C305.6,569.7 307.0,570.3 308.8,568.3 C310.6,566.3 311.5,565.1 312.9,562.6 C314.3,560.1 314.9,555.7 315.9,555.7 C316.9,555.9 317.0,561.2 318.0,563.7 C319.0,566.2 319.3,563.9 321.0,568.3 C322.7,572.7 324.5,582.3 326.7,585.6 C328.9,585.6 330.0,585.5 331.8,584.8 C333.6,584.1 334.2,582.8 335.9,582.0 C337.6,581.2 339.3,580.9 340.2,580.6" fill="none" stroke="#a02035" stroke-width="5.1" stroke-linejoin="round" stroke-linecap="butt"/>
</g>
<g>
<path d="M394.7,599.5 C395.8,596.9 398.4,589.3 400.0,586.3 C401.6,584.6 401.6,584.6 402.6,584.6 C403.6,585.3 404.0,589.9 405.2,589.9 C406.4,589.2 407.2,583.5 408.8,581.1 C410.4,578.7 411.4,577.9 413.2,577.9 C415.0,578.9 416.1,585.6 417.6,586.3 C419.1,586.3 419.3,581.4 420.7,581.4 C422.1,581.6 423.3,586.0 424.6,587.2 C425.9,587.2 426.3,587.2 427.3,587.2 C428.3,588.4 428.3,593.4 429.5,593.4 C430.7,591.6 431.9,583.2 433.4,578.4 C434.9,573.6 435.7,571.6 436.9,569.6 C438.1,568.4 438.5,569.6 439.6,568.4 C440.7,566.7 441.0,561.3 442.2,561.3 C443.4,561.9 444.3,571.4 445.7,571.4 C447.1,570.6 448.1,560.5 449.3,557.3 C450.5,555.5 450.7,557.3 451.9,555.5 C453.1,551.1 454.0,538.5 455.1,535.3 C456.2,535.3 456.3,536.2 457.2,539.7 C458.1,543.2 458.6,550.1 459.8,552.9 C461.0,553.8 462.1,552.9 463.3,553.8 C464.5,557.3 464.4,570.5 466.0,570.5 C467.6,570.1 469.2,552.9 471.3,552.0 C473.4,552.0 474.7,563.1 476.5,566.1 C478.3,567.0 478.2,566.1 480.1,567.0 C482.0,570.9 483.9,584.3 486.2,585.5 C488.5,585.5 489.7,576.0 491.5,573.1 C493.3,570.8 493.4,570.8 495.0,570.8 C496.6,571.9 498.0,576.9 499.4,578.4 C500.8,578.4 501.0,578.4 502.1,578.4 C503.2,582.3 503.5,596.9 504.7,597.8 C505.9,597.8 506.6,588.3 508.2,582.8 C509.8,577.3 511.0,571.7 512.6,570.5 C514.2,570.5 514.6,576.7 516.2,576.7 C517.8,575.6 518.8,565.8 520.6,565.2 C522.4,565.2 523.5,568.9 525.0,573.5 C526.5,578.1 527.1,586.3 528.2,588.0 C529.3,588.0 529.4,583.4 530.5,582.0 C531.6,581.1 532.2,582.0 533.8,581.1 C535.4,580.0 536.3,576.7 538.7,576.7 C541.1,578.1 543.4,588.1 545.8,588.1 C548.2,585.1 549.0,569.4 550.5,561.7 C552.0,554.0 552.3,550.2 553.5,549.7 C554.7,549.7 555.0,557.4 556.3,559.0 C557.6,559.0 558.5,557.8 560.2,557.8 C561.9,561.5 563.0,571.4 564.6,577.5 C566.2,583.6 566.7,587.3 568.1,588.1 C569.5,588.1 570.1,581.4 571.7,581.4 C573.3,582.6 574.0,593.7 576.1,594.3 C578.2,594.3 580.1,584.4 582.2,584.2 C584.3,584.2 585.1,591.6 586.6,593.4 C588.1,593.4 588.4,593.0 589.8,593.0 C591.2,595.8 592.5,605.0 593.7,607.5 C594.9,607.5 594.8,605.7 595.8,605.7 C596.8,606.7 597.7,612.3 598.9,612.7 C600.1,612.7 600.3,611.0 601.6,607.5 C602.9,604.0 603.8,597.0 605.6,595.1 C607.4,595.1 608.8,597.8 610.4,597.8 C612.0,596.1 612.2,586.7 613.6,586.7 C615.0,586.7 615.8,593.3 617.4,597.8 C619.0,602.3 619.8,609.0 621.5,609.2 C623.2,609.2 624.2,599.2 625.7,599.0 C627.2,599.0 627.7,607.1 628.9,608.3 C630.1,608.3 630.4,604.8 631.5,604.8 C632.6,605.3 633.0,610.6 634.5,610.6 C636.0,610.0 637.6,603.0 639.1,601.8 C640.6,601.8 640.6,604.8 642.1,604.8 C643.6,603.5 644.9,600.2 646.5,595.1 C648.1,590.0 648.9,583.1 650.0,579.3 C651.1,576.1 650.9,576.1 652.1,576.1 C653.3,577.5 654.7,582.5 656.2,586.3 C657.7,590.1 657.9,593.9 659.7,595.1 C661.5,595.1 663.9,593.0 665.0,592.5 L664.5,650.3 C664.1,649.8 663.4,647.9 662.7,647.9 C662.0,648.0 662.0,650.9 660.9,650.9 C659.8,649.7 658.7,645.2 657.2,641.8 C655.7,638.4 655.4,633.9 653.6,633.9 C651.8,634.7 649.9,642.5 648.2,646.0 C646.5,649.5 646.2,648.0 645.1,651.5 C644.0,655.0 643.7,661.9 642.7,663.6 C641.7,663.6 641.3,662.5 640.3,660.0 C639.3,657.5 639.0,651.9 637.9,650.9 C636.8,650.9 635.9,655.1 634.8,655.1 C633.7,653.5 633.4,644.8 632.6,643.0 C631.8,643.0 631.4,645.8 630.6,646.0 C629.8,646.0 629.8,644.2 628.8,644.2 C627.8,644.7 626.8,648.5 625.7,648.5 C624.6,648.5 624.4,644.2 623.3,644.2 C622.2,644.8 621.1,651.5 620.3,651.5 C619.5,649.3 619.9,637.2 619.1,633.3 C618.3,632.1 617.7,632.1 616.5,632.1 C615.3,632.6 614.3,633.7 613.0,635.6 C611.7,637.5 611.1,641.4 609.9,641.8 C608.7,641.8 608.2,638.3 606.9,637.4 C605.6,637.4 604.9,637.4 603.3,637.4 C601.7,638.5 600.5,642.7 598.9,642.7 C597.3,642.3 596.6,637.4 595.4,635.6 C594.2,633.9 593.9,635.6 592.8,633.9 C591.7,630.7 591.3,623.5 590.1,619.8 C588.9,616.1 588.0,616.8 586.6,615.4 C585.2,614.0 584.5,612.7 583.1,612.7 C581.7,613.2 580.8,617.3 579.6,618.0 C578.4,618.0 578.2,616.3 576.9,616.3 C575.6,618.1 574.4,626.8 572.9,626.8 C571.4,626.6 570.7,615.9 569.4,615.4 C568.1,615.4 567.7,624.2 566.4,624.2 C565.1,624.2 564.8,618.2 562.9,615.4 C561.0,612.6 558.5,612.6 556.7,610.1 C554.9,607.6 555.1,603.3 554.0,603.1 C552.9,603.1 552.7,604.5 551.4,609.2 C550.1,613.9 549.3,624.4 547.5,626.5 C545.7,626.5 544.4,622.0 542.6,619.8 C540.8,617.6 540.6,615.9 538.7,615.4 C536.8,615.4 535.0,615.4 532.9,617.1 C530.8,620.4 529.9,631.2 528.3,632.1 C526.7,632.1 526.4,624.7 525.0,621.5 C523.6,618.3 523.0,619.6 521.4,616.3 C519.8,613.0 518.4,607.4 517.0,604.8 C515.6,603.1 515.8,603.1 514.4,603.1 C513.0,606.3 511.9,615.6 510.0,620.7 C508.1,625.8 506.8,627.5 504.7,628.6 C502.6,628.6 501.3,628.1 499.4,626.0 C497.5,623.9 496.6,620.1 495.0,618.0 C493.4,615.9 493.3,615.4 491.5,615.4 C489.7,618.9 488.5,633.7 486.2,635.6 C483.9,635.6 482.4,625.1 480.1,625.1 C477.8,625.6 476.6,636.0 474.8,638.3 C473.0,638.3 473.1,636.5 471.3,636.5 C469.5,638.5 467.6,647.1 466.0,648.3 C464.4,648.3 464.5,644.2 463.3,642.7 C462.1,641.2 461.4,642.7 459.8,640.9 C458.2,638.6 456.8,633.0 455.4,631.2 C454.0,631.2 453.9,631.8 452.8,631.8 C451.7,630.6 450.9,625.1 449.8,625.1 C448.7,626.6 448.5,636.2 447.5,639.2 C446.5,640.0 446.3,640.0 444.9,640.0 C443.5,637.7 442.4,628.9 440.5,627.7 C438.6,627.7 437.4,629.7 435.2,633.9 C433.0,638.1 431.3,647.0 429.5,648.8 C427.7,648.8 427.9,646.4 426.4,642.7 C424.9,639.0 423.8,632.5 422.0,630.4 C420.2,630.4 419.4,632.1 417.6,632.1 C415.8,630.4 414.8,622.1 413.2,621.9 C411.6,621.9 411.4,628.5 409.6,631.2 C407.8,633.9 406.1,635.6 404.0,635.6 C401.9,634.0 401.0,625.1 399.1,623.3 C397.2,623.3 395.6,626.1 394.7,626.8 Z" fill="#fee4e4" stroke="none"/>
<path d="M394.7,599.5 C395.8,596.9 398.4,589.3 400.0,586.3 C401.6,584.6 401.6,584.6 402.6,584.6 C403.6,585.3 404.0,589.9 405.2,589.9 C406.4,589.2 407.2,583.5 408.8,581.1 C410.4,578.7 411.4,577.9 413.2,577.9 C415.0,578.9 416.1,585.6 417.6,586.3 C419.1,586.3 419.3,581.4 420.7,581.4 C422.1,581.6 423.3,586.0 424.6,587.2 C425.9,587.2 426.3,587.2 427.3,587.2 C428.3,588.4 428.3,593.4 429.5,593.4 C430.7,591.6 431.9,583.2 433.4,578.4 C434.9,573.6 435.7,571.6 436.9,569.6 C438.1,568.4 438.5,569.6 439.6,568.4 C440.7,566.7 441.0,561.3 442.2,561.3 C443.4,561.9 444.3,571.4 445.7,571.4 C447.1,570.6 448.1,560.5 449.3,557.3 C450.5,555.5 450.7,557.3 451.9,555.5 C453.1,551.1 454.0,538.5 455.1,535.3 C456.2,535.3 456.3,536.2 457.2,539.7 C458.1,543.2 458.6,550.1 459.8,552.9 C461.0,553.8 462.1,552.9 463.3,553.8 C464.5,557.3 464.4,570.5 466.0,570.5 C467.6,570.1 469.2,552.9 471.3,552.0 C473.4,552.0 474.7,563.1 476.5,566.1 C478.3,567.0 478.2,566.1 480.1,567.0 C482.0,570.9 483.9,584.3 486.2,585.5 C488.5,585.5 489.7,576.0 491.5,573.1 C493.3,570.8 493.4,570.8 495.0,570.8 C496.6,571.9 498.0,576.9 499.4,578.4 C500.8,578.4 501.0,578.4 502.1,578.4 C503.2,582.3 503.5,596.9 504.7,597.8 C505.9,597.8 506.6,588.3 508.2,582.8 C509.8,577.3 511.0,571.7 512.6,570.5 C514.2,570.5 514.6,576.7 516.2,576.7 C517.8,575.6 518.8,565.8 520.6,565.2 C522.4,565.2 523.5,568.9 525.0,573.5 C526.5,578.1 527.1,586.3 528.2,588.0 C529.3,588.0 529.4,583.4 530.5,582.0 C531.6,581.1 532.2,582.0 533.8,581.1 C535.4,580.0 536.3,576.7 538.7,576.7 C541.1,578.1 543.4,588.1 545.8,588.1 C548.2,585.1 549.0,569.4 550.5,561.7 C552.0,554.0 552.3,550.2 553.5,549.7 C554.7,549.7 555.0,557.4 556.3,559.0 C557.6,559.0 558.5,557.8 560.2,557.8 C561.9,561.5 563.0,571.4 564.6,577.5 C566.2,583.6 566.7,587.3 568.1,588.1 C569.5,588.1 570.1,581.4 571.7,581.4 C573.3,582.6 574.0,593.7 576.1,594.3 C578.2,594.3 580.1,584.4 582.2,584.2 C584.3,584.2 585.1,591.6 586.6,593.4 C588.1,593.4 588.4,593.0 589.8,593.0 C591.2,595.8 592.5,605.0 593.7,607.5 C594.9,607.5 594.8,605.7 595.8,605.7 C596.8,606.7 597.7,612.3 598.9,612.7 C600.1,612.7 600.3,611.0 601.6,607.5 C602.9,604.0 603.8,597.0 605.6,595.1 C607.4,595.1 608.8,597.8 610.4,597.8 C612.0,596.1 612.2,586.7 613.6,586.7 C615.0,586.7 615.8,593.3 617.4,597.8 C619.0,602.3 619.8,609.0 621.5,609.2 C623.2,609.2 624.2,599.2 625.7,599.0 C627.2,599.0 627.7,607.1 628.9,608.3 C630.1,608.3 630.4,604.8 631.5,604.8 C632.6,605.3 633.0,610.6 634.5,610.6 C636.0,610.0 637.6,603.0 639.1,601.8 C640.6,601.8 640.6,604.8 642.1,604.8 C643.6,603.5 644.9,600.2 646.5,595.1 C648.1,590.0 648.9,583.1 650.0,579.3 C651.1,576.1 650.9,576.1 652.1,576.1 C653.3,577.5 654.7,582.5 656.2,586.3 C657.7,590.1 657.9,593.9 659.7,595.1 C661.5,595.1 663.9,593.0 665.0,592.5" fill="none" stroke="#fb9f9f" stroke-width="4.5" stroke-linejoin="round" stroke-linecap="butt"/>
<path d="M394.7,626.8 C395.6,626.1 397.2,623.3 399.1,623.3 C401.0,625.1 401.9,634.0 404.0,635.6 C406.1,635.6 407.8,633.9 409.6,631.2 C411.4,628.5 411.6,621.9 413.2,621.9 C414.8,622.1 415.8,630.4 417.6,632.1 C419.4,632.1 420.2,630.4 422.0,630.4 C423.8,632.5 424.9,639.0 426.4,642.7 C427.9,646.4 427.7,648.8 429.5,648.8 C431.3,647.0 433.0,638.1 435.2,633.9 C437.4,629.7 438.6,627.7 440.5,627.7 C442.4,628.9 443.5,637.7 444.9,640.0 C446.3,640.0 446.5,640.0 447.5,639.2 C448.5,636.2 448.7,626.6 449.8,625.1 C450.9,625.1 451.7,630.6 452.8,631.8 C453.9,631.8 454.0,631.2 455.4,631.2 C456.8,633.0 458.2,638.6 459.8,640.9 C461.4,642.7 462.1,641.2 463.3,642.7 C464.5,644.2 464.4,648.3 466.0,648.3 C467.6,647.1 469.5,638.5 471.3,636.5 C473.1,636.5 473.0,638.3 474.8,638.3 C476.6,636.0 477.8,625.6 480.1,625.1 C482.4,625.1 483.9,635.6 486.2,635.6 C488.5,633.7 489.7,618.9 491.5,615.4 C493.3,615.4 493.4,615.9 495.0,618.0 C496.6,620.1 497.5,623.9 499.4,626.0 C501.3,628.1 502.6,628.6 504.7,628.6 C506.8,627.5 508.1,625.8 510.0,620.7 C511.9,615.6 513.0,606.3 514.4,603.1 C515.8,603.1 515.6,603.1 517.0,604.8 C518.4,607.4 519.8,613.0 521.4,616.3 C523.0,619.6 523.6,618.3 525.0,621.5 C526.4,624.7 526.7,632.1 528.3,632.1 C529.9,631.2 530.8,620.4 532.9,617.1 C535.0,615.4 536.8,615.4 538.7,615.4 C540.6,615.9 540.8,617.6 542.6,619.8 C544.4,622.0 545.7,626.5 547.5,626.5 C549.3,624.4 550.1,613.9 551.4,609.2 C552.7,604.5 552.9,603.1 554.0,603.1 C555.1,603.3 554.9,607.6 556.7,610.1 C558.5,612.6 561.0,612.6 562.9,615.4 C564.8,618.2 565.1,624.2 566.4,624.2 C567.7,624.2 568.1,615.4 569.4,615.4 C570.7,615.9 571.4,626.6 572.9,626.8 C574.4,626.8 575.6,618.1 576.9,616.3 C578.2,616.3 578.4,618.0 579.6,618.0 C580.8,617.3 581.7,613.2 583.1,612.7 C584.5,612.7 585.2,614.0 586.6,615.4 C588.0,616.8 588.9,616.1 590.1,619.8 C591.3,623.5 591.7,630.7 592.8,633.9 C593.9,635.6 594.2,633.9 595.4,635.6 C596.6,637.4 597.3,642.3 598.9,642.7 C600.5,642.7 601.7,638.5 603.3,637.4 C604.9,637.4 605.6,637.4 606.9,637.4 C608.2,638.3 608.7,641.8 609.9,641.8 C611.1,641.4 611.7,637.5 613.0,635.6 C614.3,633.7 615.3,632.6 616.5,632.1 C617.7,632.1 618.3,632.1 619.1,633.3 C619.9,637.2 619.5,649.3 620.3,651.5 C621.1,651.5 622.2,644.8 623.3,644.2 C624.4,644.2 624.6,648.5 625.7,648.5 C626.8,648.5 627.8,644.7 628.8,644.2 C629.8,644.2 629.8,646.0 630.6,646.0 C631.4,645.8 631.8,643.0 632.6,643.0 C633.4,644.8 633.7,653.5 634.8,655.1 C635.9,655.1 636.8,650.9 637.9,650.9 C639.0,651.9 639.3,657.5 640.3,660.0 C641.3,662.5 641.7,663.6 642.7,663.6 C643.7,661.9 644.0,655.0 645.1,651.5 C646.2,648.0 646.5,649.5 648.2,646.0 C649.9,642.5 651.8,634.7 653.6,633.9 C655.4,633.9 655.7,638.4 657.2,641.8 C658.7,645.2 659.8,649.7 660.9,650.9 C662.0,650.9 662.0,648.0 662.7,647.9 C663.4,647.9 664.1,649.8 664.5,650.3" fill="none" stroke="#fb9f9f" stroke-width="4.5" stroke-linejoin="round" stroke-linecap="butt"/>
<path d="M394.7,599.5 C395.8,596.9 398.4,589.3 400.0,586.3 C401.6,584.6 401.6,584.6 402.6,584.6 C403.6,585.3 404.0,589.9 405.2,589.9 C406.4,589.2 407.2,583.5 408.8,581.1 C410.4,578.7 411.4,577.9 413.2,577.9 C415.0,578.9 416.1,585.6 417.6,586.3 C419.1,586.3 419.3,581.4 420.7,581.4 C422.1,581.6 423.3,586.0 424.6,587.2 C425.9,587.2 426.3,587.2 427.3,587.2 C428.3,588.4 428.3,593.4 429.5,593.4 C430.7,591.6 431.9,583.2 433.4,578.4 C434.9,573.6 435.7,571.6 436.9,569.6 C438.1,568.4 438.5,569.6 439.6,568.4 C440.7,566.7 441.0,561.3 442.2,561.3 C443.4,561.9 444.3,571.4 445.7,571.4 C447.1,570.6 448.1,560.5 449.3,557.3 C450.5,555.5 450.7,557.3 451.9,555.5 C453.1,551.1 454.0,538.5 455.1,535.3 C456.2,535.3 456.3,536.2 457.2,539.7 C458.1,543.2 458.6,550.1 459.8,552.9 C461.0,553.8 462.1,552.9 463.3,553.8 C464.5,557.3 464.4,570.5 466.0,570.5 C467.6,570.1 469.2,552.9 471.3,552.0 C473.4,552.0 474.7,563.1 476.5,566.1 C478.3,567.0 478.2,566.1 480.1,567.0 C482.0,570.9 483.9,584.3 486.2,585.5 C488.5,585.5 489.7,576.0 491.5,573.1 C493.3,570.8 493.4,570.8 495.0,570.8 C496.6,571.9 498.0,576.9 499.4,578.4 C500.8,578.4 501.0,578.4 502.1,578.4 C503.2,582.3 503.5,596.9 504.7,597.8 C505.9,597.8 506.6,588.3 508.2,582.8 C509.8,577.3 511.0,571.7 512.6,570.5 C514.2,570.5 514.6,576.7 516.2,576.7 C517.8,575.6 518.8,565.8 520.6,565.2 C522.4,565.2 523.5,568.9 525.0,573.5 C526.5,578.1 527.1,586.3 528.2,588.0 C529.3,588.0 529.4,583.4 530.5,582.0 C531.6,581.1 532.2,582.0 533.8,581.1 C535.4,580.0 536.3,576.7 538.7,576.7 C541.1,578.1 543.4,588.1 545.8,588.1 C548.2,585.1 549.0,569.4 550.5,561.7 C552.0,554.0 552.3,550.2 553.5,549.7 C554.7,549.7 555.0,557.4 556.3,559.0 C557.6,559.0 558.5,557.8 560.2,557.8 C561.9,561.5 563.0,571.4 564.6,577.5 C566.2,583.6 566.7,587.3 568.1,588.1 C569.5,588.1 570.1,581.4 571.7,581.4 C573.3,582.6 574.0,593.7 576.1,594.3 C578.2,594.3 580.1,584.4 582.2,584.2 C584.3,584.2 585.1,591.6 586.6,593.4 C588.1,593.4 588.4,593.0 589.8,593.0 C591.2,595.8 592.5,605.0 593.7,607.5 C594.9,607.5 594.8,605.7 595.8,605.7 C596.8,606.7 597.7,612.3 598.9,612.7 C600.1,612.7 600.3,611.0 601.6,607.5 C602.9,604.0 603.8,597.0 605.6,595.1 C607.4,595.1 608.8,597.8 610.4,597.8 C612.0,596.1 612.2,586.7 613.6,586.7 C615.0,586.7 615.8,593.3 617.4,597.8 C619.0,602.3 619.8,609.0 621.5,609.2 C623.2,609.2 624.2,599.2 625.7,599.0 C627.2,599.0 627.7,607.1 628.9,608.3 C630.1,608.3 630.4,604.8 631.5,604.8 C632.6,605.3 633.0,610.6 634.5,610.6 C636.0,610.0 637.6,603.0 639.1,601.8 C640.6,601.8 640.6,604.8 642.1,604.8 C643.6,603.5 644.9,600.2 646.5,595.1 C648.1,590.0 648.9,583.1 650.0,579.3 C651.1,576.1 650.9,576.1 652.1,576.1 C653.3,577.5 654.7,582.5 656.2,586.3 C657.7,590.1 657.9,593.9 659.7,595.1 C661.5,595.1 663.9,593.0 665.0,592.5" fill="none" stroke="#fcbcbc" stroke-width="1.3" stroke-linejoin="round" stroke-linecap="butt"/>
<path d="M394.7,626.8 C395.6,626.1 397.2,623.3 399.1,623.3 C401.0,625.1 401.9,634.0 404.0,635.6 C406.1,635.6 407.8,633.9 409.6,631.2 C411.4,628.5 411.6,621.9 413.2,621.9 C414.8,622.1 415.8,630.4 417.6,632.1 C419.4,632.1 420.2,630.4 422.0,630.4 C423.8,632.5 424.9,639.0 426.4,642.7 C427.9,646.4 427.7,648.8 429.5,648.8 C431.3,647.0 433.0,638.1 435.2,633.9 C437.4,629.7 438.6,627.7 440.5,627.7 C442.4,628.9 443.5,637.7 444.9,640.0 C446.3,640.0 446.5,640.0 447.5,639.2 C448.5,636.2 448.7,626.6 449.8,625.1 C450.9,625.1 451.7,630.6 452.8,631.8 C453.9,631.8 454.0,631.2 455.4,631.2 C456.8,633.0 458.2,638.6 459.8,640.9 C461.4,642.7 462.1,641.2 463.3,642.7 C464.5,644.2 464.4,648.3 466.0,648.3 C467.6,647.1 469.5,638.5 471.3,636.5 C473.1,636.5 473.0,638.3 474.8,638.3 C476.6,636.0 477.8,625.6 480.1,625.1 C482.4,625.1 483.9,635.6 486.2,635.6 C488.5,633.7 489.7,618.9 491.5,615.4 C493.3,615.4 493.4,615.9 495.0,618.0 C496.6,620.1 497.5,623.9 499.4,626.0 C501.3,628.1 502.6,628.6 504.7,628.6 C506.8,627.5 508.1,625.8 510.0,620.7 C511.9,615.6 513.0,606.3 514.4,603.1 C515.8,603.1 515.6,603.1 517.0,604.8 C518.4,607.4 519.8,613.0 521.4,616.3 C523.0,619.6 523.6,618.3 525.0,621.5 C526.4,624.7 526.7,632.1 528.3,632.1 C529.9,631.2 530.8,620.4 532.9,617.1 C535.0,615.4 536.8,615.4 538.7,615.4 C540.6,615.9 540.8,617.6 542.6,619.8 C544.4,622.0 545.7,626.5 547.5,626.5 C549.3,624.4 550.1,613.9 551.4,609.2 C552.7,604.5 552.9,603.1 554.0,603.1 C555.1,603.3 554.9,607.6 556.7,610.1 C558.5,612.6 561.0,612.6 562.9,615.4 C564.8,618.2 565.1,624.2 566.4,624.2 C567.7,624.2 568.1,615.4 569.4,615.4 C570.7,615.9 571.4,626.6 572.9,626.8 C574.4,626.8 575.6,618.1 576.9,616.3 C578.2,616.3 578.4,618.0 579.6,618.0 C580.8,617.3 581.7,613.2 583.1,612.7 C584.5,612.7 585.2,614.0 586.6,615.4 C588.0,616.8 588.9,616.1 590.1,619.8 C591.3,623.5 591.7,630.7 592.8,633.9 C593.9,635.6 594.2,633.9 595.4,635.6 C596.6,637.4 597.3,642.3 598.9,642.7 C600.5,642.7 601.7,638.5 603.3,637.4 C604.9,637.4 605.6,637.4 606.9,637.4 C608.2,638.3 608.7,641.8 609.9,641.8 C611.1,641.4 611.7,637.5 613.0,635.6 C614.3,633.7 615.3,632.6 616.5,632.1 C617.7,632.1 618.3,632.1 619.1,633.3 C619.9,637.2 619.5,649.3 620.3,651.5 C621.1,651.5 622.2,644.8 623.3,644.2 C624.4,644.2 624.6,648.5 625.7,648.5 C626.8,648.5 627.8,644.7 628.8,644.2 C629.8,644.2 629.8,646.0 630.6,646.0 C631.4,645.8 631.8,643.0 632.6,643.0 C633.4,644.8 633.7,653.5 634.8,655.1 C635.9,655.1 636.8,650.9 637.9,650.9 C639.0,651.9 639.3,657.5 640.3,660.0 C641.3,662.5 641.7,663.6 642.7,663.6 C643.7,661.9 644.0,655.0 645.1,651.5 C646.2,648.0 646.5,649.5 648.2,646.0 C649.9,642.5 651.8,634.7 653.6,633.9 C655.4,633.9 655.7,638.4 657.2,641.8 C658.7,645.2 659.8,649.7 660.9,650.9 C662.0,650.9 662.0,648.0 662.7,647.9 C663.4,647.9 664.1,649.8 664.5,650.3" fill="none" stroke="#fcbcbc" stroke-width="1.3" stroke-linejoin="round" stroke-linecap="butt"/>
<path d="M395.6,612.7 C396.6,611.5 398.6,606.9 400.5,606.6 C402.4,606.6 403.4,611.0 405.2,611.0 C407.0,610.8 408.0,607.8 409.6,605.7 C411.2,603.6 411.8,600.4 413.2,600.4 C414.6,600.9 414.9,606.9 416.7,608.3 C418.5,608.3 420.1,607.5 422.0,607.5 C423.9,608.9 424.9,612.6 426.4,615.4 C427.9,618.2 428.1,621.5 429.5,621.5 C430.9,620.1 431.9,612.2 433.4,608.3 C434.9,604.4 435.3,604.3 436.9,602.2 C438.5,600.1 439.4,597.8 441.3,597.8 C443.2,598.1 444.9,603.9 446.6,603.9 C448.3,602.7 448.6,594.2 449.8,591.6 C451.0,590.7 451.7,591.6 452.8,590.7 C453.9,588.9 454.3,583.0 455.4,582.8 C456.5,582.8 457.2,586.9 458.1,589.9 C459.0,592.9 458.8,595.9 459.8,597.8 C460.8,599.5 462.1,597.8 463.3,599.5 C464.5,601.8 464.4,609.2 466.0,609.2 C467.6,608.0 469.7,595.6 471.3,593.7 C472.9,593.7 472.9,597.6 473.9,599.5 C474.9,601.4 475.3,603.1 476.5,603.1 C477.7,602.6 478.2,596.9 480.1,596.9 C482.0,598.3 483.9,610.1 486.2,610.1 C488.5,609.7 489.7,597.9 491.5,595.1 C493.3,595.1 493.4,595.1 495.0,596.0 C496.6,597.8 497.5,600.6 499.4,603.9 C501.3,607.2 502.9,612.5 504.7,612.7 C506.5,612.7 506.6,609.9 508.2,604.8 C509.8,599.7 511.0,589.8 512.6,587.2 C514.2,587.2 514.6,590.8 516.2,591.6 C517.8,591.6 519.0,591.3 520.6,591.3 C522.2,592.9 522.6,595.6 524.1,599.5 C525.6,603.4 526.4,610.9 528.1,611.0 C529.8,611.0 530.4,603.0 532.5,600.0 C534.6,597.0 536.0,596.0 538.7,596.0 C541.4,597.8 543.7,609.2 546.1,609.2 C548.5,607.6 549.1,594.6 550.5,588.1 C551.9,581.6 552.1,577.2 553.2,576.7 C554.3,576.7 554.4,583.7 555.8,585.5 C557.2,585.5 558.1,585.5 560.2,585.5 C562.3,589.4 564.2,602.0 566.4,604.8 C568.6,604.8 569.5,599.5 571.1,599.5 C572.7,600.0 573.1,605.0 574.3,607.5 C575.5,610.0 575.9,611.9 576.9,611.9 C577.9,610.3 577.6,601.8 579.2,599.5 C580.8,599.5 583.2,599.5 584.9,600.4 C586.6,602.5 586.4,608.7 587.5,610.1 C588.6,610.1 589.3,607.5 590.5,607.5 C591.7,610.1 592.6,621.4 593.7,623.3 C594.8,623.3 594.8,617.1 595.8,617.1 C596.8,618.0 597.7,627.0 598.9,627.7 C600.1,627.7 599.8,623.0 601.6,620.7 C603.4,618.4 605.9,616.5 607.7,616.3 C609.5,616.3 609.2,619.8 610.4,619.8 C611.6,618.7 612.6,612.7 613.9,611.0 C615.2,611.0 615.6,611.0 616.9,611.3 C618.2,615.2 618.5,628.0 620.4,630.4 C622.3,630.4 624.5,623.8 626.2,623.3 C627.9,623.3 627.8,627.2 628.9,627.7 C630.0,627.7 630.2,626.0 631.5,626.0 C632.8,626.9 634.2,631.8 635.6,632.1 C637.0,632.1 637.4,627.7 638.6,627.7 C639.8,628.2 639.9,634.8 641.5,634.8 C643.1,633.8 644.6,627.8 646.5,622.8 C648.4,617.8 649.6,612.6 650.9,609.8 C652.2,608.8 652.0,608.8 653.2,608.8 C654.4,609.9 655.5,612.8 657.0,615.3 C658.5,617.8 659.0,620.4 660.6,621.5 C662.2,621.5 664.1,620.9 665.0,620.7" fill="none" stroke="#ff0000" stroke-width="5.1" stroke-linejoin="round" stroke-linecap="butt"/>
</g>
<g>
<path d="M707.4,602.5 C708.7,601.2 711.3,595.8 713.7,595.8 C716.1,596.8 717.7,605.3 719.4,607.5 C721.1,607.5 720.6,606.9 722.0,606.9 C723.4,607.7 723.8,611.3 726.4,611.3 C729.0,608.7 731.7,593.9 735.2,593.7 C738.7,593.7 740.4,610.5 744.0,610.5 C747.6,610.2 750.0,594.0 753.2,592.3 C756.4,592.3 757.9,601.2 759.9,602.2 C761.9,602.2 761.8,597.8 763.4,597.3 C765.0,597.3 766.2,599.7 767.8,599.9 C769.4,599.9 769.5,598.1 771.3,598.1 C773.1,598.8 774.7,602.9 776.6,603.4 C778.5,603.4 778.7,600.4 780.6,600.4 C782.5,600.4 783.8,603.4 786.3,603.4 C788.8,601.9 791.1,595.3 793.3,592.9 C795.5,591.6 796.0,591.6 797.2,591.6 C798.4,591.6 798.2,592.9 799.5,592.9 C800.8,591.8 801.8,586.3 803.9,586.3 C806.0,587.5 807.5,598.0 810.0,599.0 C812.5,599.0 813.9,593.6 816.2,591.1 C818.5,588.6 818.9,586.7 821.5,586.7 C824.1,587.2 826.6,593.1 829.4,593.7 C832.2,593.7 833.3,589.9 835.6,589.9 C837.9,590.4 838.9,596.4 840.8,596.4 C842.7,595.6 843.5,587.6 845.3,585.8 C847.1,585.8 847.6,587.6 849.7,587.6 C851.8,586.2 853.5,582.7 855.8,578.8 C858.1,574.9 859.5,570.1 861.1,568.2 C862.7,568.2 862.2,568.2 863.8,569.1 C865.4,571.2 867.2,577.6 869.0,578.8 C870.8,578.8 871.4,575.6 872.6,575.2 C873.8,575.2 873.8,575.2 875.2,577.0 C876.6,580.4 877.8,590.4 879.6,592.0 C881.4,592.0 882.1,585.0 884.0,584.9 C885.9,584.9 887.0,591.6 889.3,591.6 C891.6,591.3 892.9,585.7 895.5,583.2 C898.1,580.7 899.7,579.3 902.5,579.3 C905.3,580.3 906.5,586.9 909.5,588.1 C912.5,588.1 914.5,586.6 917.5,585.3 C920.5,584.0 921.9,581.8 924.5,581.4 C927.1,581.4 928.6,583.2 930.7,583.2 C932.8,582.3 933.7,577.5 935.1,577.0 C936.5,577.0 936.1,577.0 937.7,580.5 C939.3,584.2 941.1,593.0 943.0,595.5 C944.9,595.5 945.6,592.9 947.4,592.9 C949.2,593.0 950.0,594.0 951.8,595.8 C953.6,597.6 954.3,601.7 956.2,601.7 C958.1,599.2 959.5,586.0 961.5,583.2 C963.5,583.2 964.4,587.6 966.4,587.6 C968.4,586.9 970.1,580.5 971.7,579.6 C973.3,579.6 973.1,580.2 974.2,583.2 C975.3,586.2 976.4,592.3 977.0,594.6 L976.4,616.6 C975.5,615.2 973.9,609.8 972.0,609.6 C970.1,609.6 968.6,615.0 966.8,615.7 C965.0,615.7 965.0,613.1 963.2,613.1 C961.4,615.2 960.3,625.1 958.0,626.3 C955.7,626.3 953.9,620.4 951.8,619.3 C949.7,619.3 949.5,621.0 947.4,621.0 C945.3,620.3 943.5,619.2 941.2,615.7 C938.9,612.2 938.1,605.2 936.0,603.4 C933.9,603.4 933.0,606.9 930.7,606.9 C928.4,606.9 927.5,603.4 924.5,603.4 C921.5,606.0 919.2,618.2 915.7,619.8 C912.2,619.8 910.1,612.4 906.9,611.3 C903.7,611.3 902.7,614.5 899.9,614.5 C897.1,613.8 895.3,608.4 892.8,607.8 C890.3,607.8 889.8,611.3 887.5,611.7 C885.2,611.7 883.5,610.6 881.4,609.6 C879.3,608.6 878.6,609.6 877.0,606.9 C875.4,604.1 875.3,595.5 873.5,595.5 C871.7,595.9 870.5,606.6 868.2,608.7 C865.9,608.7 865.5,606.1 862.0,606.1 C858.5,608.2 853.9,618.3 850.6,619.3 C847.3,619.3 847.1,611.9 845.3,611.3 C843.5,611.3 843.3,615.4 841.7,616.3 C840.1,616.3 839.2,615.7 837.3,615.7 C835.4,616.5 834.1,620.1 832.0,620.1 C829.9,620.1 828.9,617.3 826.8,615.7 C824.7,614.1 824.3,613.1 821.5,612.2 C818.7,611.3 815.3,611.3 812.7,611.3 C810.1,612.0 810.1,615.7 808.3,615.7 C806.5,615.4 805.3,611.4 803.9,609.6 C802.5,607.8 803.0,606.9 801.2,606.9 C799.4,607.4 797.7,611.0 795.1,612.2 C792.5,613.1 790.5,612.2 788.0,613.1 C785.5,614.2 785.0,616.8 782.7,617.5 C780.4,617.5 778.5,617.3 776.6,616.6 C774.7,615.9 774.9,614.0 773.1,614.0 C771.3,615.2 770.3,621.9 767.8,622.8 C765.3,622.8 763.5,620.9 760.7,618.4 C757.9,615.9 757.2,610.5 753.7,610.5 C750.2,612.9 746.6,630.4 743.1,630.4 C739.6,630.2 738.9,611.4 736.1,609.6 C733.3,609.6 730.9,619.4 729.0,621.5 C727.1,621.5 727.4,620.1 726.4,620.1 C725.4,620.7 725.0,623.0 723.8,624.5 C722.6,626.0 722.2,627.5 720.2,627.5 C718.2,625.2 715.8,614.4 713.7,613.1 C711.6,613.1 711.0,619.2 709.7,621.0 C708.4,621.9 707.9,621.7 707.4,621.9 Z" fill="#ffdcbd" stroke="none"/>
<path d="M707.4,602.5 C708.7,601.2 711.3,595.8 713.7,595.8 C716.1,596.8 717.7,605.3 719.4,607.5 C721.1,607.5 720.6,606.9 722.0,606.9 C723.4,607.7 723.8,611.3 726.4,611.3 C729.0,608.7 731.7,593.9 735.2,593.7 C738.7,593.7 740.4,610.5 744.0,610.5 C747.6,610.2 750.0,594.0 753.2,592.3 C756.4,592.3 757.9,601.2 759.9,602.2 C761.9,602.2 761.8,597.8 763.4,597.3 C765.0,597.3 766.2,599.7 767.8,599.9 C769.4,599.9 769.5,598.1 771.3,598.1 C773.1,598.8 774.7,602.9 776.6,603.4 C778.5,603.4 778.7,600.4 780.6,600.4 C782.5,600.4 783.8,603.4 786.3,603.4 C788.8,601.9 791.1,595.3 793.3,592.9 C795.5,591.6 796.0,591.6 797.2,591.6 C798.4,591.6 798.2,592.9 799.5,592.9 C800.8,591.8 801.8,586.3 803.9,586.3 C806.0,587.5 807.5,598.0 810.0,599.0 C812.5,599.0 813.9,593.6 816.2,591.1 C818.5,588.6 818.9,586.7 821.5,586.7 C824.1,587.2 826.6,593.1 829.4,593.7 C832.2,593.7 833.3,589.9 835.6,589.9 C837.9,590.4 838.9,596.4 840.8,596.4 C842.7,595.6 843.5,587.6 845.3,585.8 C847.1,585.8 847.6,587.6 849.7,587.6 C851.8,586.2 853.5,582.7 855.8,578.8 C858.1,574.9 859.5,570.1 861.1,568.2 C862.7,568.2 862.2,568.2 863.8,569.1 C865.4,571.2 867.2,577.6 869.0,578.8 C870.8,578.8 871.4,575.6 872.6,575.2 C873.8,575.2 873.8,575.2 875.2,577.0 C876.6,580.4 877.8,590.4 879.6,592.0 C881.4,592.0 882.1,585.0 884.0,584.9 C885.9,584.9 887.0,591.6 889.3,591.6 C891.6,591.3 892.9,585.7 895.5,583.2 C898.1,580.7 899.7,579.3 902.5,579.3 C905.3,580.3 906.5,586.9 909.5,588.1 C912.5,588.1 914.5,586.6 917.5,585.3 C920.5,584.0 921.9,581.8 924.5,581.4 C927.1,581.4 928.6,583.2 930.7,583.2 C932.8,582.3 933.7,577.5 935.1,577.0 C936.5,577.0 936.1,577.0 937.7,580.5 C939.3,584.2 941.1,593.0 943.0,595.5 C944.9,595.5 945.6,592.9 947.4,592.9 C949.2,593.0 950.0,594.0 951.8,595.8 C953.6,597.6 954.3,601.7 956.2,601.7 C958.1,599.2 959.5,586.0 961.5,583.2 C963.5,583.2 964.4,587.6 966.4,587.6 C968.4,586.9 970.1,580.5 971.7,579.6 C973.3,579.6 973.1,580.2 974.2,583.2 C975.3,586.2 976.4,592.3 977.0,594.6" fill="none" stroke="#fdbb7d" stroke-width="4.5" stroke-linejoin="round" stroke-linecap="butt"/>
<path d="M707.4,621.9 C707.9,621.7 708.4,621.9 709.7,621.0 C711.0,619.2 711.6,613.1 713.7,613.1 C715.8,614.4 718.2,625.2 720.2,627.5 C722.2,627.5 722.6,626.0 723.8,624.5 C725.0,623.0 725.4,620.7 726.4,620.1 C727.4,620.1 727.1,621.5 729.0,621.5 C730.9,619.4 733.3,609.6 736.1,609.6 C738.9,611.4 739.6,630.2 743.1,630.4 C746.6,630.4 750.2,612.9 753.7,610.5 C757.2,610.5 757.9,615.9 760.7,618.4 C763.5,620.9 765.3,622.8 767.8,622.8 C770.3,621.9 771.3,615.2 773.1,614.0 C774.9,614.0 774.7,615.9 776.6,616.6 C778.5,617.3 780.4,617.5 782.7,617.5 C785.0,616.8 785.5,614.2 788.0,613.1 C790.5,612.2 792.5,613.1 795.1,612.2 C797.7,611.0 799.4,607.4 801.2,606.9 C803.0,606.9 802.5,607.8 803.9,609.6 C805.3,611.4 806.5,615.4 808.3,615.7 C810.1,615.7 810.1,612.0 812.7,611.3 C815.3,611.3 818.7,611.3 821.5,612.2 C824.3,613.1 824.7,614.1 826.8,615.7 C828.9,617.3 829.9,620.1 832.0,620.1 C834.1,620.1 835.4,616.5 837.3,615.7 C839.2,615.7 840.1,616.3 841.7,616.3 C843.3,615.4 843.5,611.3 845.3,611.3 C847.1,611.9 847.3,619.3 850.6,619.3 C853.9,618.3 858.5,608.2 862.0,606.1 C865.5,606.1 865.9,608.7 868.2,608.7 C870.5,606.6 871.7,595.9 873.5,595.5 C875.3,595.5 875.4,604.1 877.0,606.9 C878.6,609.6 879.3,608.6 881.4,609.6 C883.5,610.6 885.2,611.7 887.5,611.7 C889.8,611.3 890.3,607.8 892.8,607.8 C895.3,608.4 897.1,613.8 899.9,614.5 C902.7,614.5 903.7,611.3 906.9,611.3 C910.1,612.4 912.2,619.8 915.7,619.8 C919.2,618.2 921.5,606.0 924.5,603.4 C927.5,603.4 928.4,606.9 930.7,606.9 C933.0,606.9 933.9,603.4 936.0,603.4 C938.1,605.2 938.9,612.2 941.2,615.7 C943.5,619.2 945.3,620.3 947.4,621.0 C949.5,621.0 949.7,619.3 951.8,619.3 C953.9,620.4 955.7,626.3 958.0,626.3 C960.3,625.1 961.4,615.2 963.2,613.1 C965.0,613.1 965.0,615.7 966.8,615.7 C968.6,615.0 970.1,609.6 972.0,609.6 C973.9,609.8 975.5,615.2 976.4,616.6" fill="none" stroke="#fdbb7d" stroke-width="4.5" stroke-linejoin="round" stroke-linecap="butt"/>
<path d="M707.4,602.5 C708.7,601.2 711.3,595.8 713.7,595.8 C716.1,596.8 717.7,605.3 719.4,607.5 C721.1,607.5 720.6,606.9 722.0,606.9 C723.4,607.7 723.8,611.3 726.4,611.3 C729.0,608.7 731.7,593.9 735.2,593.7 C738.7,593.7 740.4,610.5 744.0,610.5 C747.6,610.2 750.0,594.0 753.2,592.3 C756.4,592.3 757.9,601.2 759.9,602.2 C761.9,602.2 761.8,597.8 763.4,597.3 C765.0,597.3 766.2,599.7 767.8,599.9 C769.4,599.9 769.5,598.1 771.3,598.1 C773.1,598.8 774.7,602.9 776.6,603.4 C778.5,603.4 778.7,600.4 780.6,600.4 C782.5,600.4 783.8,603.4 786.3,603.4 C788.8,601.9 791.1,595.3 793.3,592.9 C795.5,591.6 796.0,591.6 797.2,591.6 C798.4,591.6 798.2,592.9 799.5,592.9 C800.8,591.8 801.8,586.3 803.9,586.3 C806.0,587.5 807.5,598.0 810.0,599.0 C812.5,599.0 813.9,593.6 816.2,591.1 C818.5,588.6 818.9,586.7 821.5,586.7 C824.1,587.2 826.6,593.1 829.4,593.7 C832.2,593.7 833.3,589.9 835.6,589.9 C837.9,590.4 838.9,596.4 840.8,596.4 C842.7,595.6 843.5,587.6 845.3,585.8 C847.1,585.8 847.6,587.6 849.7,587.6 C851.8,586.2 853.5,582.7 855.8,578.8 C858.1,574.9 859.5,570.1 861.1,568.2 C862.7,568.2 862.2,568.2 863.8,569.1 C865.4,571.2 867.2,577.6 869.0,578.8 C870.8,578.8 871.4,575.6 872.6,575.2 C873.8,575.2 873.8,575.2 875.2,577.0 C876.6,580.4 877.8,590.4 879.6,592.0 C881.4,592.0 882.1,585.0 884.0,584.9 C885.9,584.9 887.0,591.6 889.3,591.6 C891.6,591.3 892.9,585.7 895.5,583.2 C898.1,580.7 899.7,579.3 902.5,579.3 C905.3,580.3 906.5,586.9 909.5,588.1 C912.5,588.1 914.5,586.6 917.5,585.3 C920.5,584.0 921.9,581.8 924.5,581.4 C927.1,581.4 928.6,583.2 930.7,583.2 C932.8,582.3 933.7,577.5 935.1,577.0 C936.5,577.0 936.1,577.0 937.7,580.5 C939.3,584.2 941.1,593.0 943.0,595.5 C944.9,595.5 945.6,592.9 947.4,592.9 C949.2,593.0 950.0,594.0 951.8,595.8 C953.6,597.6 954.3,601.7 956.2,601.7 C958.1,599.2 959.5,586.0 961.5,583.2 C963.5,583.2 964.4,587.6 966.4,587.6 C968.4,586.9 970.1,580.5 971.7,579.6 C973.3,579.6 973.1,580.2 974.2,583.2 C975.3,586.2 976.4,592.3 977.0,594.6" fill="none" stroke="#fdcda2" stroke-width="1.3" stroke-linejoin="round" stroke-linecap="butt"/>
<path d="M707.4,621.9 C707.9,621.7 708.4,621.9 709.7,621.0 C711.0,619.2 711.6,613.1 713.7,613.1 C715.8,614.4 718.2,625.2 720.2,627.5 C722.2,627.5 722.6,626.0 723.8,624.5 C725.0,623.0 725.4,620.7 726.4,620.1 C727.4,620.1 727.1,621.5 729.0,621.5 C730.9,619.4 733.3,609.6 736.1,609.6 C738.9,611.4 739.6,630.2 743.1,630.4 C746.6,630.4 750.2,612.9 753.7,610.5 C757.2,610.5 757.9,615.9 760.7,618.4 C763.5,620.9 765.3,622.8 767.8,622.8 C770.3,621.9 771.3,615.2 773.1,614.0 C774.9,614.0 774.7,615.9 776.6,616.6 C778.5,617.3 780.4,617.5 782.7,617.5 C785.0,616.8 785.5,614.2 788.0,613.1 C790.5,612.2 792.5,613.1 795.1,612.2 C797.7,611.0 799.4,607.4 801.2,606.9 C803.0,606.9 802.5,607.8 803.9,609.6 C805.3,611.4 806.5,615.4 808.3,615.7 C810.1,615.7 810.1,612.0 812.7,611.3 C815.3,611.3 818.7,611.3 821.5,612.2 C824.3,613.1 824.7,614.1 826.8,615.7 C828.9,617.3 829.9,620.1 832.0,620.1 C834.1,620.1 835.4,616.5 837.3,615.7 C839.2,615.7 840.1,616.3 841.7,616.3 C843.3,615.4 843.5,611.3 845.3,611.3 C847.1,611.9 847.3,619.3 850.6,619.3 C853.9,618.3 858.5,608.2 862.0,606.1 C865.5,606.1 865.9,608.7 868.2,608.7 C870.5,606.6 871.7,595.9 873.5,595.5 C875.3,595.5 875.4,604.1 877.0,606.9 C878.6,609.6 879.3,608.6 881.4,609.6 C883.5,610.6 885.2,611.7 887.5,611.7 C889.8,611.3 890.3,607.8 892.8,607.8 C895.3,608.4 897.1,613.8 899.9,614.5 C902.7,614.5 903.7,611.3 906.9,611.3 C910.1,612.4 912.2,619.8 915.7,619.8 C919.2,618.2 921.5,606.0 924.5,603.4 C927.5,603.4 928.4,606.9 930.7,606.9 C933.0,606.9 933.9,603.4 936.0,603.4 C938.1,605.2 938.9,612.2 941.2,615.7 C943.5,619.2 945.3,620.3 947.4,621.0 C949.5,621.0 949.7,619.3 951.8,619.3 C953.9,620.4 955.7,626.3 958.0,626.3 C960.3,625.1 961.4,615.2 963.2,613.1 C965.0,613.1 965.0,615.7 966.8,615.7 C968.6,615.0 970.1,609.6 972.0,609.6 C973.9,609.8 975.5,615.2 976.4,616.6" fill="none" stroke="#fdcda2" stroke-width="1.3" stroke-linejoin="round" stroke-linecap="butt"/>
<path d="M707.4,612.2 C708.7,610.8 711.5,605.2 714.1,605.2 C716.7,606.2 718.1,614.9 720.2,617.0 C722.3,617.0 722.8,615.7 724.6,615.7 C726.4,615.7 726.9,617.0 729.0,617.0 C731.1,614.1 732.2,601.1 735.2,601.1 C738.2,601.6 740.3,619.2 744.0,619.3 C747.7,619.3 750.4,603.6 753.7,601.7 C757.0,601.7 758.6,608.4 760.7,609.6 C762.8,609.6 762.9,607.8 764.3,607.8 C765.7,608.2 766.2,611.7 767.8,611.7 C769.4,611.4 770.3,607.0 772.2,606.4 C774.1,606.4 775.7,608.4 777.5,608.7 C779.3,608.7 779.4,607.8 781.0,607.8 C782.6,608.2 782.9,610.5 785.4,610.5 C787.9,609.6 790.7,605.0 793.3,603.4 C795.9,602.5 796.5,603.4 798.6,602.5 C800.7,601.4 801.8,598.1 803.9,598.1 C806.0,598.6 807.1,604.3 809.2,605.2 C811.3,605.2 812.8,602.9 814.4,602.5 C816.0,602.5 815.7,603.4 817.1,603.4 C818.5,602.9 819.6,599.9 821.5,599.9 C823.4,600.1 824.9,603.1 826.8,604.3 C828.7,605.5 829.3,606.1 831.2,606.1 C833.1,605.8 834.5,602.9 836.4,602.9 C838.3,603.1 838.8,606.9 840.8,606.9 C842.8,605.9 844.1,598.8 846.2,598.1 C848.3,598.1 848.2,603.4 851.4,603.4 C854.6,601.3 858.8,589.7 862.0,587.6 C865.2,587.6 865.0,592.9 867.3,592.9 C869.6,592.4 871.7,586.0 873.5,584.9 C875.3,584.9 874.9,584.9 876.1,587.6 C877.3,590.8 877.8,598.9 879.6,600.8 C881.4,600.8 883.0,597.3 884.9,597.3 C886.8,597.5 887.4,601.7 889.3,601.7 C891.2,601.7 891.8,598.3 894.6,597.3 C897.4,596.9 899.0,596.9 903.4,596.9 C907.8,598.0 912.2,602.9 916.6,602.9 C921.0,601.8 922.6,593.3 925.4,591.6 C928.2,591.6 928.8,594.6 930.7,594.6 C932.6,594.5 933.0,591.1 935.1,591.1 C937.2,593.2 938.2,601.9 941.2,605.2 C944.2,607.5 947.0,605.7 950.0,607.5 C953.0,609.3 953.7,614.0 956.2,614.0 C958.7,612.1 960.5,600.6 962.4,598.1 C964.3,598.1 964.0,601.7 965.9,601.7 C967.8,601.2 970.2,596.3 972.0,595.8 C973.8,595.8 973.8,596.9 974.7,599.0 C975.6,601.1 976.1,604.7 976.4,606.1" fill="none" stroke="#ff7f0e" stroke-width="5.3" stroke-linejoin="round" stroke-linecap="butt"/>
</g>
<rect x="157" y="390.5" width="34" height="15" fill="#ff0000"/>
<rect x="500.2" y="390.5" width="34.2" height="15" fill="#ff0000"/>
<rect x="810.7" y="390.5" width="34.2" height="15" fill="#ff0000"/>
<rect x="157.8" y="666.4" width="41.5" height="14.6" fill="#ff0000"/>
<rect x="480" y="666.4" width="41.5" height="14.6" fill="#ff0000"/>
<rect x="792" y="666.4" width="41.4" height="14.6" fill="#ff0000"/>
<path d="M919.2,649.2 L1012.4,649.2 L1012.4,580" fill="none" stroke="#222" stroke-width="4.4" stroke-linejoin="miter"/>
<rect x="3.8" y="7.6" width="10.4" height="44.5" fill="#000"/>
<path d="M1059.3,35.6 L1067.8,35.6 C1067.8,42 1069.2,45 1073.5,45 L1073.5,52.9 C1064,52.9 1059.3,47.5 1059.3,35.6 Z" fill="#000"/>
</svg>
<div class="t" id="l1" style="font-size:40.5px;left:169px;top:64.4px;">rs</div>
<div class="t" id="l2" style="left:486.3px;top:63.9px;"><span style="letter-spacing:-1.5px">W</span>T</div>
<div class="t" id="l3" style="transform-origin:0 0;transform:scaleX(0.99);left:741.8px;top:63.9px;">ChrimsonR</div>
<div class="t" id="c1" style="transform-origin:0 0;transform:scaleX(0.991);left:143.4px;top:409.1px;">720 nm, 5 m<span style="letter-spacing:-3px">W</span> @10 Hz for 2 s</div>
<div class="t" id="c2" style="transform-origin:0 0;transform:scaleX(0.989);left:156.4px;top:682.4px;">750 nm, 40 m<span style="letter-spacing:-3px">W</span> @10 Hz for 2s</div>
<div class="t" id="s1" style="left:914.6px;top:653.3px;">5 sec</div>
<div class="t" id="s2" style="left:1024.6px;top:662.8px;color:#222;transform-origin:0 0;transform:rotate(-90deg) scaleX(0.98);">2 % &#916;F/F</div>
</body></html>
